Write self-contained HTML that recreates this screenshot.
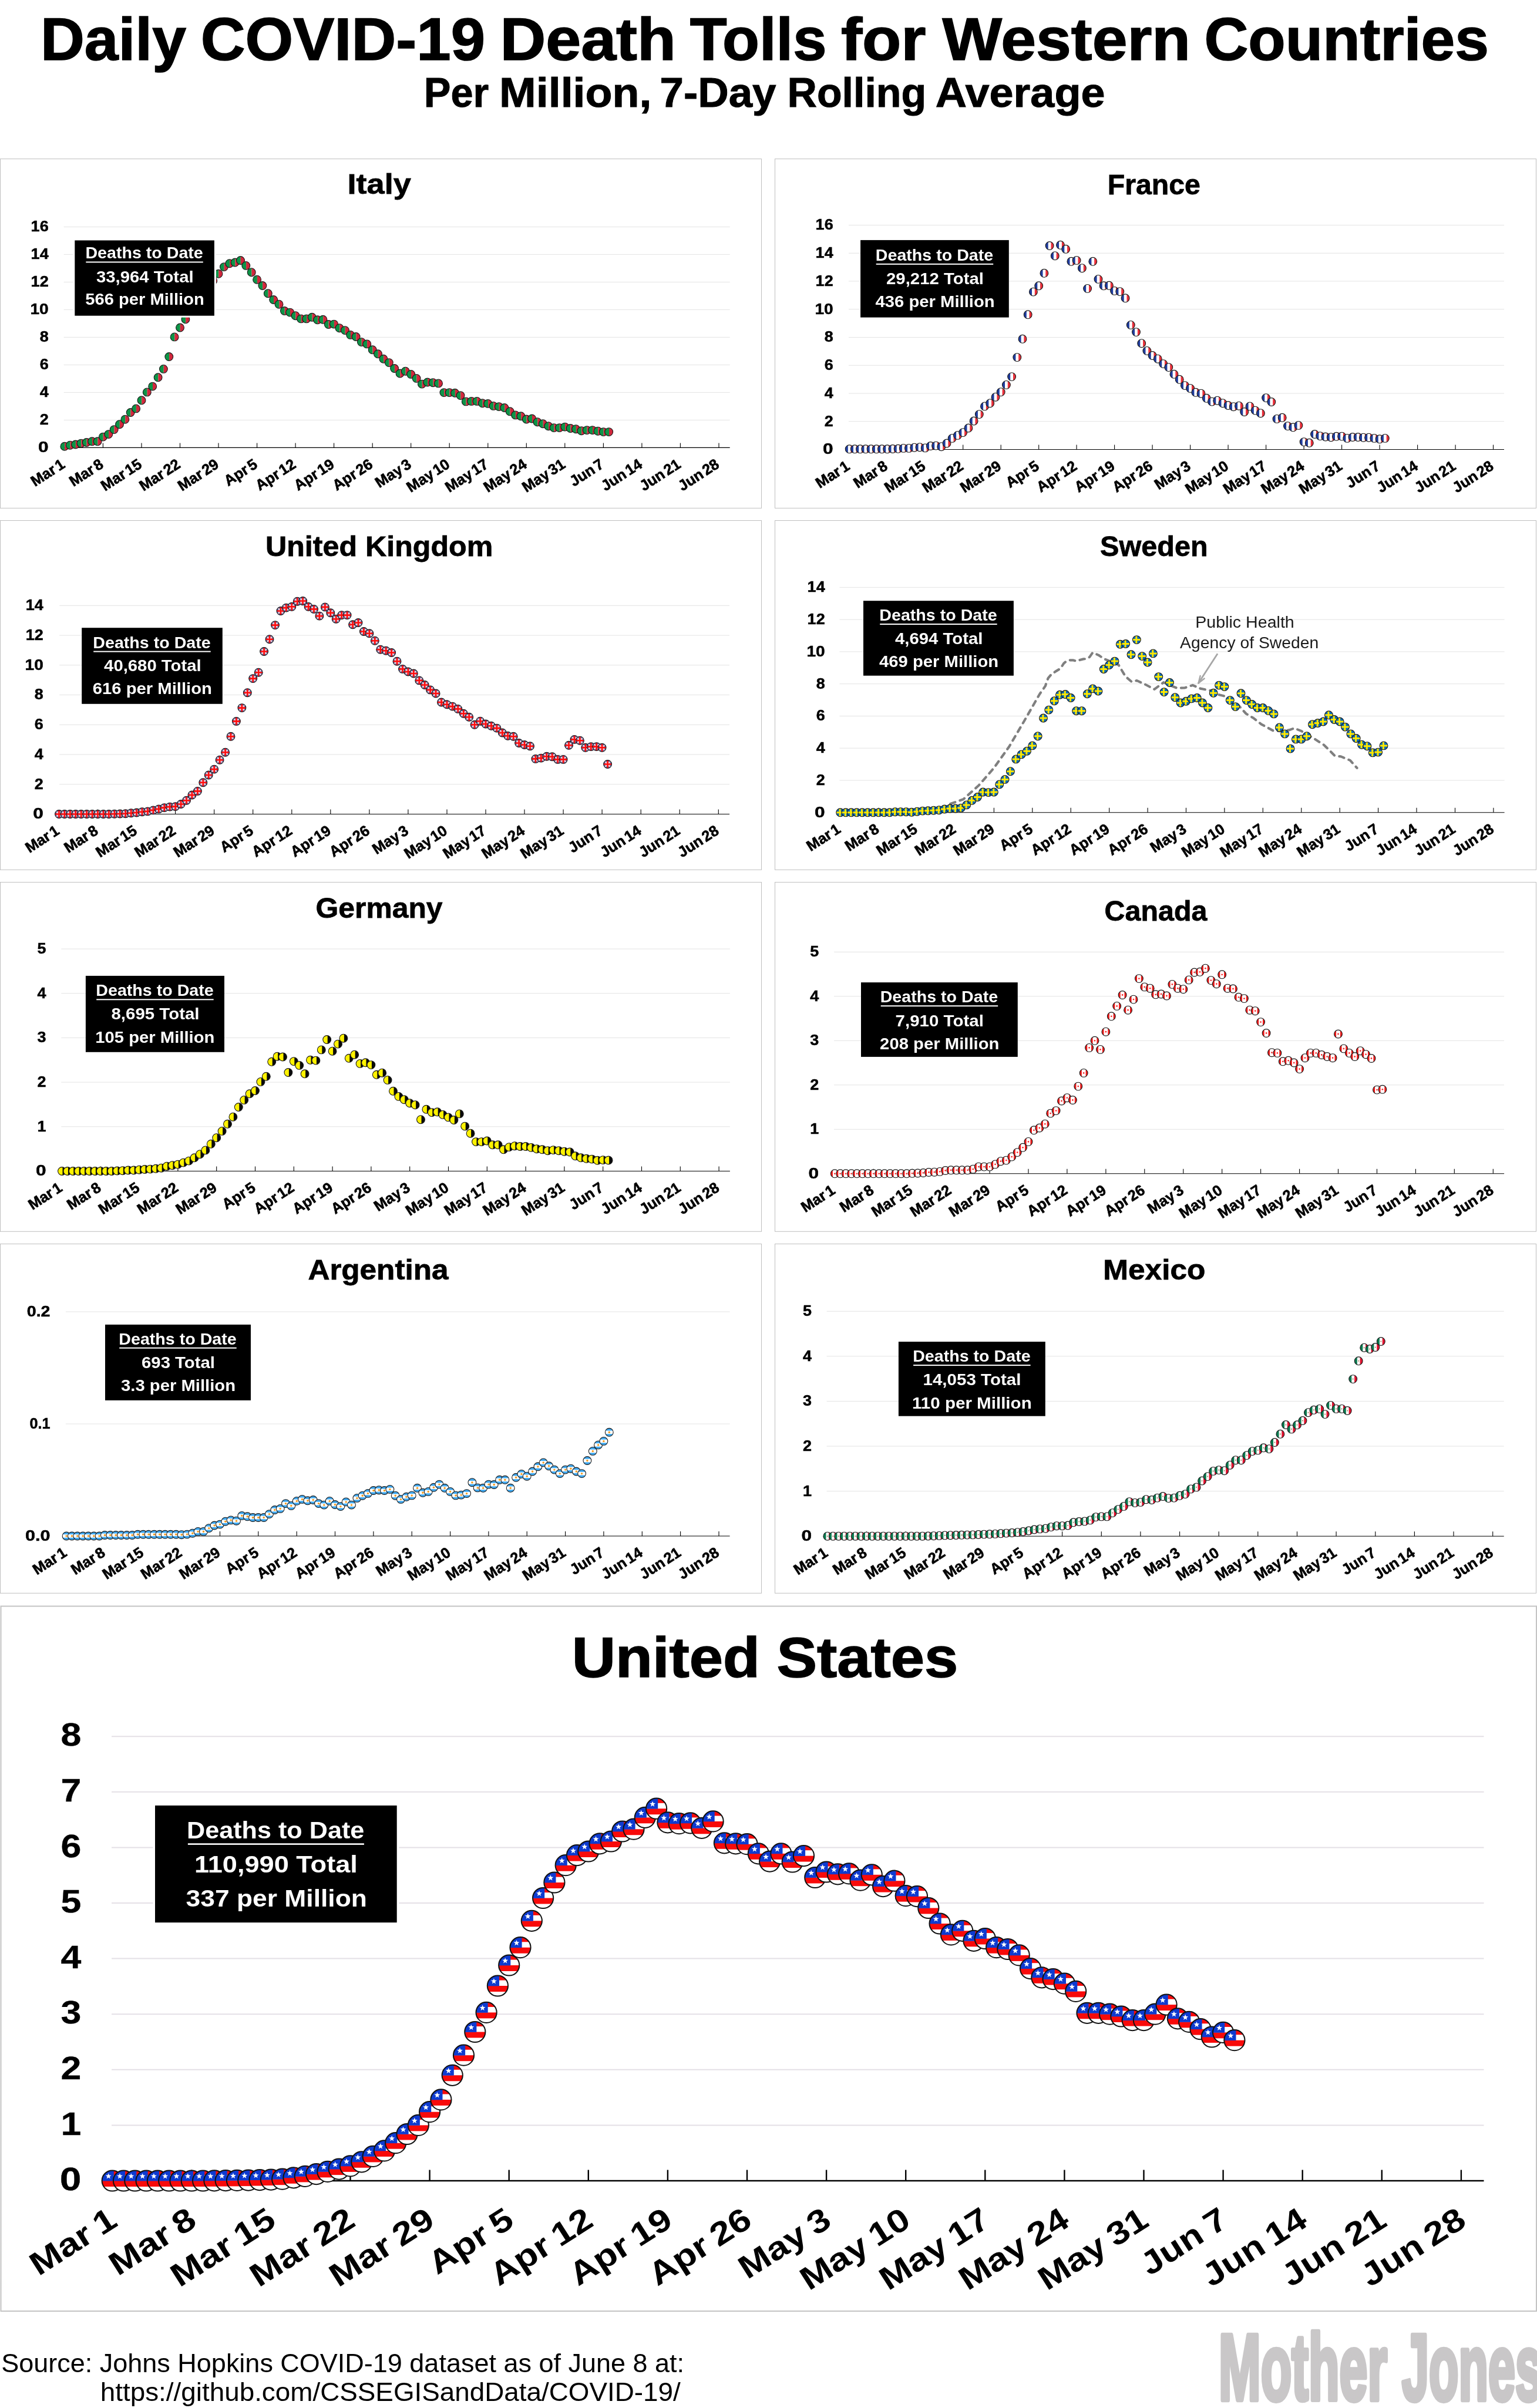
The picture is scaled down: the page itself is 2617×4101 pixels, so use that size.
<!DOCTYPE html><html><head><meta charset="utf-8"><title>Daily COVID-19 Death Tolls</title><style>html,body{margin:0;padding:0;background:#fff}svg{display:block;will-change:transform}text{font-family:"Liberation Sans",sans-serif}</style></head><body>
<svg width="2617" height="4101" viewBox="0 0 2617 4101">
<rect width="2617" height="4101" fill="#fff"/>
<defs>
<clipPath id="c"><circle r="6.9"/></clipPath>
<clipPath id="cu"><circle r="17.6"/></clipPath>
<g id="m_it"><g clip-path="url(#c)"><rect x="-8" y="-8" width="8.3" height="16" fill="#0c9547"/><rect x="0.3" y="-8" width="8" height="16" fill="#d2273c"/></g><circle r="6.9" fill="none" stroke="#1a1a1a" stroke-width="1.1"/></g>
<g id="m_fr"><g clip-path="url(#c)"><rect x="-8" y="-8" width="16" height="16" fill="#fff"/><rect x="-8" y="-8" width="5.6" height="16" fill="#1f3c9e"/><rect x="2.4" y="-8" width="6" height="16" fill="#ea2f3a"/></g><circle r="6.9" fill="none" stroke="#1a1a1a" stroke-width="1.1"/></g>
<radialGradient id="ukg" gradientUnits="userSpaceOnUse" cx="0" cy="0" r="6.9"><stop offset="0" stop-color="#fbd9dc"/><stop offset="0.45" stop-color="#f8ccd2" stop-opacity="0.95"/><stop offset="0.8" stop-color="#e9b9c8" stop-opacity="0.35"/><stop offset="1" stop-color="#c9a0c0" stop-opacity="0"/></radialGradient>
<g id="m_uk"><g clip-path="url(#c)"><rect x="-8" y="-8" width="16" height="16" fill="#17388f"/><circle r="6.9" fill="url(#ukg)"/><path d="M-8-8L8 8M-8 8L8-8" stroke="#f3d3dc" stroke-width="1.7"/><path d="M-8 0H8M0-8V8" stroke="#ff0d0d" stroke-width="2.6"/></g><circle r="6.9" fill="none" stroke="#1a1a1a" stroke-width="1.1"/></g>
<g id="m_se"><g clip-path="url(#c)"><rect x="-8" y="-8" width="16" height="16" fill="#0a6bb7"/><path d="M-8 0H8M-0.6-8V8" stroke="#ffe800" stroke-width="3"/></g><circle r="6.9" fill="none" stroke="#1a1a1a" stroke-width="1.1"/></g>
<g id="m_de"><g clip-path="url(#c)"><rect x="-8" y="-8" width="16" height="16" fill="#0a0a0a"/><rect x="-8" y="-8" width="9" height="16" fill="#fff200"/></g><circle r="6.9" fill="none" stroke="#1a1a1a" stroke-width="1.1"/></g>
<g id="m_ca"><g clip-path="url(#c)"><rect x="-8" y="-8" width="16" height="16" fill="#fff"/><rect x="-8" y="-8" width="4.6" height="16" fill="#f01a1a"/><rect x="3.4" y="-8" width="5" height="16" fill="#f01a1a"/><circle r="1.4" fill="#f03030"/></g><circle r="6.9" fill="none" stroke="#1a1a1a" stroke-width="1.1"/></g>
<g id="m_ar"><g clip-path="url(#c)"><rect x="-8" y="-8" width="16" height="16" fill="#fff"/><rect x="-8" y="-8" width="16" height="5.2" fill="#41a8ee"/><rect x="-8" y="2.8" width="16" height="6" fill="#41a8ee"/><circle r="1.7" fill="#f2991d"/></g><circle r="6.9" fill="none" stroke="#1a1a1a" stroke-width="1.1"/></g>
<g id="m_mx"><g clip-path="url(#c)"><rect x="-8" y="-8" width="16" height="16" fill="#fff"/><rect x="-8" y="-8" width="5.6" height="16" fill="#0b7a50"/><rect x="2.4" y="-8" width="6" height="16" fill="#e2122f"/><ellipse rx="0.9" ry="1.3" fill="#a58a62"/></g><circle r="6.9" fill="none" stroke="#1a1a1a" stroke-width="1.1"/></g>
<g id="m_us"><g clip-path="url(#cu)"><rect x="-19" y="-19" width="38" height="38" fill="#fff"/><rect x="-19" y="-19" width="38" height="9.6" fill="#f80a0a"/><rect x="-19" y="0" width="38" height="10" fill="#f80a0a"/><rect x="-19" y="-19" width="21.6" height="19.4" fill="#0e3bd0"/><polygon points="-6.50,-12.80 -5.21,-9.38 -1.55,-9.21 -4.41,-6.92 -3.44,-3.39 -6.50,-5.40 -9.56,-3.39 -8.59,-6.92 -11.45,-9.21 -7.79,-9.38" fill="#fff"/></g><circle r="17.6" fill="none" stroke="#111" stroke-width="2"/></g>
</defs>
<text x="69.0" y="101.9" font-size="102" font-weight="bold" text-anchor="start" fill="#000" textLength="247.8" lengthAdjust="spacingAndGlyphs" stroke="#000" stroke-width="1.6">Daily</text>
<text x="341.7" y="101.9" font-size="102" font-weight="bold" text-anchor="start" fill="#000" textLength="484.4" lengthAdjust="spacingAndGlyphs" stroke="#000" stroke-width="1.6">COVID-19</text>
<text x="851.4" y="101.9" font-size="102" font-weight="bold" text-anchor="start" fill="#000" textLength="299.4" lengthAdjust="spacingAndGlyphs" stroke="#000" stroke-width="1.6">Death</text>
<text x="1174.7" y="101.9" font-size="102" font-weight="bold" text-anchor="start" fill="#000" textLength="232.8" lengthAdjust="spacingAndGlyphs" stroke="#000" stroke-width="1.6">Tolls</text>
<text x="1431.9" y="101.9" font-size="102" font-weight="bold" text-anchor="start" fill="#000" textLength="144.7" lengthAdjust="spacingAndGlyphs" stroke="#000" stroke-width="1.6">for</text>
<text x="1604.6" y="101.9" font-size="102" font-weight="bold" text-anchor="start" fill="#000" textLength="422.5" lengthAdjust="spacingAndGlyphs" stroke="#000" stroke-width="1.6">Western</text>
<text x="2050.4" y="101.9" font-size="102" font-weight="bold" text-anchor="start" fill="#000" textLength="484.6" lengthAdjust="spacingAndGlyphs" stroke="#000" stroke-width="1.6">Countries</text>
<text x="721.8" y="181.7" font-size="71" font-weight="bold" text-anchor="start" fill="#000" textLength="110.5" lengthAdjust="spacingAndGlyphs" stroke="#000" stroke-width="1.0">Per</text>
<text x="850.1" y="181.7" font-size="71" font-weight="bold" text-anchor="start" fill="#000" textLength="259.3" lengthAdjust="spacingAndGlyphs" stroke="#000" stroke-width="1.0">Million,</text>
<text x="1123.6" y="181.7" font-size="71" font-weight="bold" text-anchor="start" fill="#000" textLength="197.9" lengthAdjust="spacingAndGlyphs" stroke="#000" stroke-width="1.0">7-Day</text>
<text x="1340.4" y="181.7" font-size="71" font-weight="bold" text-anchor="start" fill="#000" textLength="236.9" lengthAdjust="spacingAndGlyphs" stroke="#000" stroke-width="1.0">Rolling</text>
<text x="1592.8" y="181.7" font-size="71" font-weight="bold" text-anchor="start" fill="#000" textLength="288.8" lengthAdjust="spacingAndGlyphs" stroke="#000" stroke-width="1.0">Average</text>
<rect x="0.5" y="270.6" width="1296" height="594.8" fill="#fff" stroke="#bfbfbf" stroke-width="1"/>
<text x="591.5" y="330.1" font-size="49" font-weight="bold" text-anchor="start" fill="#000" textLength="108.4" lengthAdjust="spacingAndGlyphs" stroke="#000" stroke-width="0.78">Italy</text>
<line x1="108.7" x2="1242.7" y1="715.4" y2="715.4" stroke="#e3e3e3" stroke-width="1"/>
<line x1="108.7" x2="1242.7" y1="668.4" y2="668.4" stroke="#e3e3e3" stroke-width="1"/>
<line x1="108.7" x2="1242.7" y1="621.4" y2="621.4" stroke="#e3e3e3" stroke-width="1"/>
<line x1="108.7" x2="1242.7" y1="574.4" y2="574.4" stroke="#e3e3e3" stroke-width="1"/>
<line x1="108.7" x2="1242.7" y1="527.4" y2="527.4" stroke="#e3e3e3" stroke-width="1"/>
<line x1="108.7" x2="1242.7" y1="480.4" y2="480.4" stroke="#e3e3e3" stroke-width="1"/>
<line x1="108.7" x2="1242.7" y1="433.4" y2="433.4" stroke="#e3e3e3" stroke-width="1"/>
<line x1="108.7" x2="1242.7" y1="386.4" y2="386.4" stroke="#e3e3e3" stroke-width="1"/>
<line x1="109.9" x2="1242.7" y1="762.4" y2="762.4" stroke="#000" stroke-width="1.1"/>
<path d="M175.4 762.4v-8M241.0 762.4v-8M306.5 762.4v-8M372.0 762.4v-8M437.6 762.4v-8M503.1 762.4v-8M568.6 762.4v-8M634.2 762.4v-8M699.7 762.4v-8M765.2 762.4v-8M830.8 762.4v-8M896.3 762.4v-8M961.8 762.4v-8M1027.4 762.4v-8M1092.9 762.4v-8M1158.4 762.4v-8M1224.0 762.4v-8" stroke="#000" stroke-width="1.1" fill="none"/>
<text x="82.7" y="770.3" font-size="25.5" font-weight="bold" text-anchor="end" fill="#000" textLength="17.6" lengthAdjust="spacingAndGlyphs" stroke="#000" stroke-width="0.51">0</text>
<text x="82.7" y="723.3" font-size="25.5" font-weight="bold" text-anchor="end" fill="#000" textLength="15.0" lengthAdjust="spacingAndGlyphs" stroke="#000" stroke-width="0.51">2</text>
<text x="82.7" y="676.3" font-size="25.5" font-weight="bold" text-anchor="end" fill="#000" textLength="15.0" lengthAdjust="spacingAndGlyphs" stroke="#000" stroke-width="0.51">4</text>
<text x="82.7" y="629.3" font-size="25.5" font-weight="bold" text-anchor="end" fill="#000" textLength="15.0" lengthAdjust="spacingAndGlyphs" stroke="#000" stroke-width="0.51">6</text>
<text x="82.7" y="582.3" font-size="25.5" font-weight="bold" text-anchor="end" fill="#000" textLength="15.0" lengthAdjust="spacingAndGlyphs" stroke="#000" stroke-width="0.51">8</text>
<text x="82.7" y="535.3" font-size="25.5" font-weight="bold" text-anchor="end" fill="#000" textLength="31.2" lengthAdjust="spacingAndGlyphs" stroke="#000" stroke-width="0.51">10</text>
<text x="82.7" y="488.3" font-size="25.5" font-weight="bold" text-anchor="end" fill="#000" textLength="30.1" lengthAdjust="spacingAndGlyphs" stroke="#000" stroke-width="0.51">12</text>
<text x="82.7" y="441.3" font-size="25.5" font-weight="bold" text-anchor="end" fill="#000" textLength="30.1" lengthAdjust="spacingAndGlyphs" stroke="#000" stroke-width="0.51">14</text>
<text x="82.7" y="394.3" font-size="25.5" font-weight="bold" text-anchor="end" fill="#000" textLength="30.1" lengthAdjust="spacingAndGlyphs" stroke="#000" stroke-width="0.51">16</text>
<text x="0.0" y="0.0" font-size="25.5" font-weight="bold" text-anchor="end" fill="#000" transform="translate(112.4,794.9) rotate(-33) scale(1.0,1)" word-spacing="-3.6" stroke="#000" stroke-width="0.64">Mar 1</text>
<text x="0.0" y="0.0" font-size="25.5" font-weight="bold" text-anchor="end" fill="#000" transform="translate(177.9,794.9) rotate(-33) scale(1.0,1)" word-spacing="-3.6" stroke="#000" stroke-width="0.64">Mar 8</text>
<text x="0.0" y="0.0" font-size="25.5" font-weight="bold" text-anchor="end" fill="#000" transform="translate(243.5,794.9) rotate(-33) scale(1.0,1)" word-spacing="-3.6" stroke="#000" stroke-width="0.64">Mar 15</text>
<text x="0.0" y="0.0" font-size="25.5" font-weight="bold" text-anchor="end" fill="#000" transform="translate(309.0,794.9) rotate(-33) scale(1.0,1)" word-spacing="-3.6" stroke="#000" stroke-width="0.64">Mar 22</text>
<text x="0.0" y="0.0" font-size="25.5" font-weight="bold" text-anchor="end" fill="#000" transform="translate(374.5,794.9) rotate(-33) scale(1.0,1)" word-spacing="-3.6" stroke="#000" stroke-width="0.64">Mar 29</text>
<text x="0.0" y="0.0" font-size="25.5" font-weight="bold" text-anchor="end" fill="#000" transform="translate(440.1,794.9) rotate(-33) scale(1.0,1)" word-spacing="-3.6" stroke="#000" stroke-width="0.64">Apr 5</text>
<text x="0.0" y="0.0" font-size="25.5" font-weight="bold" text-anchor="end" fill="#000" transform="translate(505.6,794.9) rotate(-33) scale(1.0,1)" word-spacing="-3.6" stroke="#000" stroke-width="0.64">Apr 12</text>
<text x="0.0" y="0.0" font-size="25.5" font-weight="bold" text-anchor="end" fill="#000" transform="translate(571.1,794.9) rotate(-33) scale(1.0,1)" word-spacing="-3.6" stroke="#000" stroke-width="0.64">Apr 19</text>
<text x="0.0" y="0.0" font-size="25.5" font-weight="bold" text-anchor="end" fill="#000" transform="translate(636.7,794.9) rotate(-33) scale(1.0,1)" word-spacing="-3.6" stroke="#000" stroke-width="0.64">Apr 26</text>
<text x="0.0" y="0.0" font-size="25.5" font-weight="bold" text-anchor="end" fill="#000" transform="translate(702.2,794.9) rotate(-33) scale(1.0,1)" word-spacing="-3.6" stroke="#000" stroke-width="0.64">May 3</text>
<text x="0.0" y="0.0" font-size="25.5" font-weight="bold" text-anchor="end" fill="#000" transform="translate(767.7,794.9) rotate(-33) scale(1.0,1)" word-spacing="-3.6" stroke="#000" stroke-width="0.64">May 10</text>
<text x="0.0" y="0.0" font-size="25.5" font-weight="bold" text-anchor="end" fill="#000" transform="translate(833.3,794.9) rotate(-33) scale(1.0,1)" word-spacing="-3.6" stroke="#000" stroke-width="0.64">May 17</text>
<text x="0.0" y="0.0" font-size="25.5" font-weight="bold" text-anchor="end" fill="#000" transform="translate(898.8,794.9) rotate(-33) scale(1.0,1)" word-spacing="-3.6" stroke="#000" stroke-width="0.64">May 24</text>
<text x="0.0" y="0.0" font-size="25.5" font-weight="bold" text-anchor="end" fill="#000" transform="translate(964.3,794.9) rotate(-33) scale(1.0,1)" word-spacing="-3.6" stroke="#000" stroke-width="0.64">May 31</text>
<text x="0.0" y="0.0" font-size="25.5" font-weight="bold" text-anchor="end" fill="#000" transform="translate(1029.9,794.9) rotate(-33) scale(1.0,1)" word-spacing="-3.6" stroke="#000" stroke-width="0.64">Jun 7</text>
<text x="0.0" y="0.0" font-size="25.5" font-weight="bold" text-anchor="end" fill="#000" transform="translate(1095.4,794.9) rotate(-33) scale(1.0,1)" word-spacing="-3.6" stroke="#000" stroke-width="0.64">Jun 14</text>
<text x="0.0" y="0.0" font-size="25.5" font-weight="bold" text-anchor="end" fill="#000" transform="translate(1160.9,794.9) rotate(-33) scale(1.0,1)" word-spacing="-3.6" stroke="#000" stroke-width="0.64">Jun 21</text>
<text x="0.0" y="0.0" font-size="25.5" font-weight="bold" text-anchor="end" fill="#000" transform="translate(1226.5,794.9) rotate(-33) scale(1.0,1)" word-spacing="-3.6" stroke="#000" stroke-width="0.64">Jun 28</text>
<use href="#m_it" x="109.9" y="760.3"/>
<use href="#m_it" x="119.3" y="758.2"/>
<use href="#m_it" x="128.6" y="757.0"/>
<use href="#m_it" x="138.0" y="755.1"/>
<use href="#m_it" x="147.3" y="753.5"/>
<use href="#m_it" x="156.7" y="751.8"/>
<use href="#m_it" x="166.1" y="751.8"/>
<use href="#m_it" x="175.4" y="744.1"/>
<use href="#m_it" x="184.8" y="739.6"/>
<use href="#m_it" x="194.2" y="731.6"/>
<use href="#m_it" x="203.5" y="722.7"/>
<use href="#m_it" x="212.9" y="714.2"/>
<use href="#m_it" x="222.2" y="702.5"/>
<use href="#m_it" x="231.6" y="695.9"/>
<use href="#m_it" x="241.0" y="681.8"/>
<use href="#m_it" x="250.3" y="667.9"/>
<use href="#m_it" x="259.7" y="658.1"/>
<use href="#m_it" x="269.1" y="642.8"/>
<use href="#m_it" x="278.4" y="628.4"/>
<use href="#m_it" x="287.8" y="607.5"/>
<use href="#m_it" x="297.1" y="573.9"/>
<use href="#m_it" x="306.5" y="558.0"/>
<use href="#m_it" x="315.9" y="543.8"/>
<use href="#m_it" x="325.2" y="529.8"/>
<use href="#m_it" x="334.6" y="515.6"/>
<use href="#m_it" x="344.0" y="503.9"/>
<use href="#m_it" x="353.3" y="489.8"/>
<use href="#m_it" x="362.7" y="478.1"/>
<use href="#m_it" x="372.0" y="466.3"/>
<use href="#m_it" x="381.4" y="454.6"/>
<use href="#m_it" x="390.8" y="448.7"/>
<use href="#m_it" x="400.1" y="447.0"/>
<use href="#m_it" x="409.5" y="443.5"/>
<use href="#m_it" x="418.8" y="452.4"/>
<use href="#m_it" x="428.2" y="463.7"/>
<use href="#m_it" x="437.6" y="476.2"/>
<use href="#m_it" x="446.9" y="486.5"/>
<use href="#m_it" x="456.3" y="499.7"/>
<use href="#m_it" x="465.7" y="510.5"/>
<use href="#m_it" x="475.0" y="518.2"/>
<use href="#m_it" x="484.4" y="529.5"/>
<use href="#m_it" x="493.7" y="532.1"/>
<use href="#m_it" x="503.1" y="537.7"/>
<use href="#m_it" x="512.5" y="542.9"/>
<use href="#m_it" x="521.8" y="542.9"/>
<use href="#m_it" x="531.2" y="540.3"/>
<use href="#m_it" x="540.6" y="544.8"/>
<use href="#m_it" x="549.9" y="544.3"/>
<use href="#m_it" x="559.3" y="552.5"/>
<use href="#m_it" x="568.6" y="552.1"/>
<use href="#m_it" x="578.0" y="558.7"/>
<use href="#m_it" x="587.4" y="562.6"/>
<use href="#m_it" x="596.7" y="570.4"/>
<use href="#m_it" x="606.1" y="573.5"/>
<use href="#m_it" x="615.4" y="582.6"/>
<use href="#m_it" x="624.8" y="585.9"/>
<use href="#m_it" x="634.2" y="595.8"/>
<use href="#m_it" x="643.5" y="602.8"/>
<use href="#m_it" x="652.9" y="611.3"/>
<use href="#m_it" x="662.3" y="617.6"/>
<use href="#m_it" x="671.6" y="627.5"/>
<use href="#m_it" x="681.0" y="636.0"/>
<use href="#m_it" x="690.3" y="632.2"/>
<use href="#m_it" x="699.7" y="637.4"/>
<use href="#m_it" x="709.1" y="644.4"/>
<use href="#m_it" x="718.4" y="654.1"/>
<use href="#m_it" x="727.8" y="651.0"/>
<use href="#m_it" x="737.2" y="651.7"/>
<use href="#m_it" x="746.5" y="652.9"/>
<use href="#m_it" x="755.9" y="668.6"/>
<use href="#m_it" x="765.2" y="668.6"/>
<use href="#m_it" x="774.6" y="669.3"/>
<use href="#m_it" x="784.0" y="673.6"/>
<use href="#m_it" x="793.3" y="683.9"/>
<use href="#m_it" x="802.7" y="683.4"/>
<use href="#m_it" x="812.0" y="683.4"/>
<use href="#m_it" x="821.4" y="686.7"/>
<use href="#m_it" x="830.8" y="687.4"/>
<use href="#m_it" x="840.1" y="691.4"/>
<use href="#m_it" x="849.5" y="692.6"/>
<use href="#m_it" x="858.9" y="694.5"/>
<use href="#m_it" x="868.2" y="700.8"/>
<use href="#m_it" x="877.6" y="706.9"/>
<use href="#m_it" x="886.9" y="708.8"/>
<use href="#m_it" x="896.3" y="714.0"/>
<use href="#m_it" x="905.7" y="713.0"/>
<use href="#m_it" x="915.0" y="718.7"/>
<use href="#m_it" x="924.4" y="721.7"/>
<use href="#m_it" x="933.8" y="725.7"/>
<use href="#m_it" x="943.1" y="728.6"/>
<use href="#m_it" x="952.5" y="728.6"/>
<use href="#m_it" x="961.8" y="727.1"/>
<use href="#m_it" x="971.2" y="729.5"/>
<use href="#m_it" x="980.6" y="730.7"/>
<use href="#m_it" x="989.9" y="733.7"/>
<use href="#m_it" x="999.3" y="732.6"/>
<use href="#m_it" x="1008.7" y="732.6"/>
<use href="#m_it" x="1018.0" y="734.2"/>
<use href="#m_it" x="1027.4" y="735.6"/>
<use href="#m_it" x="1036.7" y="735.6"/>
<rect x="124.3" y="406.4" width="243.6" height="134.3" fill="#fff"/>
<rect x="127.3" y="409.4" width="237.6" height="128.3" fill="#000"/>
<text x="145.4" y="440.4" font-size="27" font-weight="bold" text-anchor="start" fill="#fff" textLength="200.4" lengthAdjust="spacingAndGlyphs" >Deaths to Date</text>
<rect x="146.3" y="445.4" width="199.5" height="2" fill="#fff"/>
<text x="163.9" y="480.5" font-size="27" font-weight="bold" text-anchor="start" fill="#fff" textLength="165.7" lengthAdjust="spacingAndGlyphs" >33,964 Total</text>
<text x="145.2" y="519.2" font-size="27" font-weight="bold" text-anchor="start" fill="#fff" textLength="202.6" lengthAdjust="spacingAndGlyphs" >566 per Million</text>
<rect x="1319.5" y="270.6" width="1296" height="594.8" fill="#fff" stroke="#bfbfbf" stroke-width="1"/>
<text x="1885.7" y="331.0" font-size="49" font-weight="bold" text-anchor="start" fill="#000" textLength="158.1" lengthAdjust="spacingAndGlyphs" stroke="#000" stroke-width="0.78">France</text>
<line x1="1445.0" x2="2561.0" y1="717.7" y2="717.7" stroke="#e3e3e3" stroke-width="1"/>
<line x1="1445.0" x2="2561.0" y1="670.0" y2="670.0" stroke="#e3e3e3" stroke-width="1"/>
<line x1="1445.0" x2="2561.0" y1="622.2" y2="622.2" stroke="#e3e3e3" stroke-width="1"/>
<line x1="1445.0" x2="2561.0" y1="574.5" y2="574.5" stroke="#e3e3e3" stroke-width="1"/>
<line x1="1445.0" x2="2561.0" y1="526.7" y2="526.7" stroke="#e3e3e3" stroke-width="1"/>
<line x1="1445.0" x2="2561.0" y1="478.9" y2="478.9" stroke="#e3e3e3" stroke-width="1"/>
<line x1="1445.0" x2="2561.0" y1="431.2" y2="431.2" stroke="#e3e3e3" stroke-width="1"/>
<line x1="1445.0" x2="2561.0" y1="383.4" y2="383.4" stroke="#e3e3e3" stroke-width="1"/>
<line x1="1446.2" x2="2561.0" y1="765.5" y2="765.5" stroke="#000" stroke-width="1.1"/>
<path d="M1510.7 765.5v-8M1575.2 765.5v-8M1639.7 765.5v-8M1704.2 765.5v-8M1768.7 765.5v-8M1833.1 765.5v-8M1897.6 765.5v-8M1962.1 765.5v-8M2026.6 765.5v-8M2091.1 765.5v-8M2155.6 765.5v-8M2220.1 765.5v-8M2284.6 765.5v-8M2349.1 765.5v-8M2413.6 765.5v-8M2478.1 765.5v-8M2542.5 765.5v-8" stroke="#000" stroke-width="1.1" fill="none"/>
<text x="1418.7" y="773.4" font-size="25.5" font-weight="bold" text-anchor="end" fill="#000" textLength="17.6" lengthAdjust="spacingAndGlyphs" stroke="#000" stroke-width="0.51">0</text>
<text x="1418.7" y="725.6" font-size="25.5" font-weight="bold" text-anchor="end" fill="#000" textLength="15.0" lengthAdjust="spacingAndGlyphs" stroke="#000" stroke-width="0.51">2</text>
<text x="1418.7" y="677.9" font-size="25.5" font-weight="bold" text-anchor="end" fill="#000" textLength="15.0" lengthAdjust="spacingAndGlyphs" stroke="#000" stroke-width="0.51">4</text>
<text x="1418.7" y="630.1" font-size="25.5" font-weight="bold" text-anchor="end" fill="#000" textLength="15.0" lengthAdjust="spacingAndGlyphs" stroke="#000" stroke-width="0.51">6</text>
<text x="1418.7" y="582.4" font-size="25.5" font-weight="bold" text-anchor="end" fill="#000" textLength="15.0" lengthAdjust="spacingAndGlyphs" stroke="#000" stroke-width="0.51">8</text>
<text x="1418.7" y="534.6" font-size="25.5" font-weight="bold" text-anchor="end" fill="#000" textLength="31.2" lengthAdjust="spacingAndGlyphs" stroke="#000" stroke-width="0.51">10</text>
<text x="1418.7" y="486.8" font-size="25.5" font-weight="bold" text-anchor="end" fill="#000" textLength="30.1" lengthAdjust="spacingAndGlyphs" stroke="#000" stroke-width="0.51">12</text>
<text x="1418.7" y="439.1" font-size="25.5" font-weight="bold" text-anchor="end" fill="#000" textLength="30.1" lengthAdjust="spacingAndGlyphs" stroke="#000" stroke-width="0.51">14</text>
<text x="1418.7" y="391.3" font-size="25.5" font-weight="bold" text-anchor="end" fill="#000" textLength="30.1" lengthAdjust="spacingAndGlyphs" stroke="#000" stroke-width="0.51">16</text>
<text x="0.0" y="0.0" font-size="25.5" font-weight="bold" text-anchor="end" fill="#000" transform="translate(1448.7,798.0) rotate(-33) scale(1.0,1)" word-spacing="-3.6" stroke="#000" stroke-width="0.64">Mar 1</text>
<text x="0.0" y="0.0" font-size="25.5" font-weight="bold" text-anchor="end" fill="#000" transform="translate(1513.2,798.0) rotate(-33) scale(1.0,1)" word-spacing="-3.6" stroke="#000" stroke-width="0.64">Mar 8</text>
<text x="0.0" y="0.0" font-size="25.5" font-weight="bold" text-anchor="end" fill="#000" transform="translate(1577.7,798.0) rotate(-33) scale(1.0,1)" word-spacing="-3.6" stroke="#000" stroke-width="0.64">Mar 15</text>
<text x="0.0" y="0.0" font-size="25.5" font-weight="bold" text-anchor="end" fill="#000" transform="translate(1642.2,798.0) rotate(-33) scale(1.0,1)" word-spacing="-3.6" stroke="#000" stroke-width="0.64">Mar 22</text>
<text x="0.0" y="0.0" font-size="25.5" font-weight="bold" text-anchor="end" fill="#000" transform="translate(1706.7,798.0) rotate(-33) scale(1.0,1)" word-spacing="-3.6" stroke="#000" stroke-width="0.64">Mar 29</text>
<text x="0.0" y="0.0" font-size="25.5" font-weight="bold" text-anchor="end" fill="#000" transform="translate(1771.2,798.0) rotate(-33) scale(1.0,1)" word-spacing="-3.6" stroke="#000" stroke-width="0.64">Apr 5</text>
<text x="0.0" y="0.0" font-size="25.5" font-weight="bold" text-anchor="end" fill="#000" transform="translate(1835.6,798.0) rotate(-33) scale(1.0,1)" word-spacing="-3.6" stroke="#000" stroke-width="0.64">Apr 12</text>
<text x="0.0" y="0.0" font-size="25.5" font-weight="bold" text-anchor="end" fill="#000" transform="translate(1900.1,798.0) rotate(-33) scale(1.0,1)" word-spacing="-3.6" stroke="#000" stroke-width="0.64">Apr 19</text>
<text x="0.0" y="0.0" font-size="25.5" font-weight="bold" text-anchor="end" fill="#000" transform="translate(1964.6,798.0) rotate(-33) scale(1.0,1)" word-spacing="-3.6" stroke="#000" stroke-width="0.64">Apr 26</text>
<text x="0.0" y="0.0" font-size="25.5" font-weight="bold" text-anchor="end" fill="#000" transform="translate(2029.1,798.0) rotate(-33) scale(1.0,1)" word-spacing="-3.6" stroke="#000" stroke-width="0.64">May 3</text>
<text x="0.0" y="0.0" font-size="25.5" font-weight="bold" text-anchor="end" fill="#000" transform="translate(2093.6,798.0) rotate(-33) scale(1.0,1)" word-spacing="-3.6" stroke="#000" stroke-width="0.64">May 10</text>
<text x="0.0" y="0.0" font-size="25.5" font-weight="bold" text-anchor="end" fill="#000" transform="translate(2158.1,798.0) rotate(-33) scale(1.0,1)" word-spacing="-3.6" stroke="#000" stroke-width="0.64">May 17</text>
<text x="0.0" y="0.0" font-size="25.5" font-weight="bold" text-anchor="end" fill="#000" transform="translate(2222.6,798.0) rotate(-33) scale(1.0,1)" word-spacing="-3.6" stroke="#000" stroke-width="0.64">May 24</text>
<text x="0.0" y="0.0" font-size="25.5" font-weight="bold" text-anchor="end" fill="#000" transform="translate(2287.1,798.0) rotate(-33) scale(1.0,1)" word-spacing="-3.6" stroke="#000" stroke-width="0.64">May 31</text>
<text x="0.0" y="0.0" font-size="25.5" font-weight="bold" text-anchor="end" fill="#000" transform="translate(2351.6,798.0) rotate(-33) scale(1.0,1)" word-spacing="-3.6" stroke="#000" stroke-width="0.64">Jun 7</text>
<text x="0.0" y="0.0" font-size="25.5" font-weight="bold" text-anchor="end" fill="#000" transform="translate(2416.1,798.0) rotate(-33) scale(1.0,1)" word-spacing="-3.6" stroke="#000" stroke-width="0.64">Jun 14</text>
<text x="0.0" y="0.0" font-size="25.5" font-weight="bold" text-anchor="end" fill="#000" transform="translate(2480.6,798.0) rotate(-33) scale(1.0,1)" word-spacing="-3.6" stroke="#000" stroke-width="0.64">Jun 21</text>
<text x="0.0" y="0.0" font-size="25.5" font-weight="bold" text-anchor="end" fill="#000" transform="translate(2545.0,798.0) rotate(-33) scale(1.0,1)" word-spacing="-3.6" stroke="#000" stroke-width="0.64">Jun 28</text>
<use href="#m_fr" x="1446.2" y="764.8"/>
<use href="#m_fr" x="1455.4" y="764.8"/>
<use href="#m_fr" x="1464.6" y="764.8"/>
<use href="#m_fr" x="1473.8" y="764.8"/>
<use href="#m_fr" x="1483.1" y="764.8"/>
<use href="#m_fr" x="1492.3" y="764.8"/>
<use href="#m_fr" x="1501.5" y="764.8"/>
<use href="#m_fr" x="1510.7" y="764.8"/>
<use href="#m_fr" x="1519.9" y="764.5"/>
<use href="#m_fr" x="1529.1" y="764.3"/>
<use href="#m_fr" x="1538.3" y="763.4"/>
<use href="#m_fr" x="1547.5" y="763.4"/>
<use href="#m_fr" x="1556.8" y="762.2"/>
<use href="#m_fr" x="1566.0" y="761.7"/>
<use href="#m_fr" x="1575.2" y="762.9"/>
<use href="#m_fr" x="1584.4" y="759.5"/>
<use href="#m_fr" x="1593.6" y="759.1"/>
<use href="#m_fr" x="1602.8" y="760.7"/>
<use href="#m_fr" x="1612.0" y="755.0"/>
<use href="#m_fr" x="1621.2" y="746.4"/>
<use href="#m_fr" x="1630.5" y="741.4"/>
<use href="#m_fr" x="1639.7" y="736.6"/>
<use href="#m_fr" x="1648.9" y="729.0"/>
<use href="#m_fr" x="1658.1" y="717.0"/>
<use href="#m_fr" x="1667.3" y="705.6"/>
<use href="#m_fr" x="1676.5" y="691.9"/>
<use href="#m_fr" x="1685.7" y="686.7"/>
<use href="#m_fr" x="1695.0" y="676.2"/>
<use href="#m_fr" x="1704.2" y="667.6"/>
<use href="#m_fr" x="1713.4" y="655.4"/>
<use href="#m_fr" x="1722.6" y="641.6"/>
<use href="#m_fr" x="1731.8" y="608.6"/>
<use href="#m_fr" x="1741.0" y="577.3"/>
<use href="#m_fr" x="1750.2" y="535.8"/>
<use href="#m_fr" x="1759.4" y="497.1"/>
<use href="#m_fr" x="1768.7" y="486.8"/>
<use href="#m_fr" x="1777.9" y="465.3"/>
<use href="#m_fr" x="1787.1" y="418.5"/>
<use href="#m_fr" x="1796.3" y="435.7"/>
<use href="#m_fr" x="1805.5" y="417.3"/>
<use href="#m_fr" x="1814.7" y="424.3"/>
<use href="#m_fr" x="1823.9" y="445.3"/>
<use href="#m_fr" x="1833.1" y="443.4"/>
<use href="#m_fr" x="1842.4" y="456.7"/>
<use href="#m_fr" x="1851.6" y="491.4"/>
<use href="#m_fr" x="1860.8" y="445.3"/>
<use href="#m_fr" x="1870.0" y="475.4"/>
<use href="#m_fr" x="1879.2" y="486.8"/>
<use href="#m_fr" x="1888.4" y="486.3"/>
<use href="#m_fr" x="1897.6" y="495.4"/>
<use href="#m_fr" x="1906.8" y="496.6"/>
<use href="#m_fr" x="1916.1" y="507.8"/>
<use href="#m_fr" x="1925.3" y="553.4"/>
<use href="#m_fr" x="1934.5" y="565.6"/>
<use href="#m_fr" x="1943.7" y="584.7"/>
<use href="#m_fr" x="1952.9" y="597.4"/>
<use href="#m_fr" x="1962.1" y="605.5"/>
<use href="#m_fr" x="1971.3" y="611.2"/>
<use href="#m_fr" x="1980.6" y="619.6"/>
<use href="#m_fr" x="1989.8" y="625.6"/>
<use href="#m_fr" x="1999.0" y="637.3"/>
<use href="#m_fr" x="2008.2" y="646.3"/>
<use href="#m_fr" x="2017.4" y="656.6"/>
<use href="#m_fr" x="2026.6" y="661.4"/>
<use href="#m_fr" x="2035.8" y="668.3"/>
<use href="#m_fr" x="2045.0" y="670.2"/>
<use href="#m_fr" x="2054.3" y="678.3"/>
<use href="#m_fr" x="2063.5" y="684.1"/>
<use href="#m_fr" x="2072.7" y="682.2"/>
<use href="#m_fr" x="2081.9" y="686.7"/>
<use href="#m_fr" x="2091.1" y="690.5"/>
<use href="#m_fr" x="2100.3" y="692.7"/>
<use href="#m_fr" x="2109.5" y="691.2"/>
<use href="#m_fr" x="2118.7" y="701.5"/>
<use href="#m_fr" x="2128.0" y="691.9"/>
<use href="#m_fr" x="2137.2" y="699.1"/>
<use href="#m_fr" x="2146.4" y="703.7"/>
<use href="#m_fr" x="2155.6" y="677.6"/>
<use href="#m_fr" x="2164.8" y="684.5"/>
<use href="#m_fr" x="2174.0" y="713.4"/>
<use href="#m_fr" x="2183.2" y="711.3"/>
<use href="#m_fr" x="2192.5" y="725.6"/>
<use href="#m_fr" x="2201.7" y="727.8"/>
<use href="#m_fr" x="2210.9" y="724.4"/>
<use href="#m_fr" x="2220.1" y="752.6"/>
<use href="#m_fr" x="2229.3" y="754.3"/>
<use href="#m_fr" x="2238.5" y="739.5"/>
<use href="#m_fr" x="2247.7" y="742.6"/>
<use href="#m_fr" x="2256.9" y="744.0"/>
<use href="#m_fr" x="2266.2" y="744.7"/>
<use href="#m_fr" x="2275.4" y="743.3"/>
<use href="#m_fr" x="2284.6" y="743.1"/>
<use href="#m_fr" x="2293.8" y="746.4"/>
<use href="#m_fr" x="2303.0" y="744.5"/>
<use href="#m_fr" x="2312.2" y="744.5"/>
<use href="#m_fr" x="2321.4" y="745.2"/>
<use href="#m_fr" x="2330.6" y="745.2"/>
<use href="#m_fr" x="2339.9" y="746.4"/>
<use href="#m_fr" x="2349.1" y="747.8"/>
<use href="#m_fr" x="2358.3" y="746.4"/>
<rect x="1465.1" y="408.9" width="252.7" height="131.7" fill="#fff"/>
<rect x="1465.1" y="408.9" width="252.7" height="131.7" fill="#000"/>
<text x="1490.8" y="443.8" font-size="27" font-weight="bold" text-anchor="start" fill="#fff" textLength="200.4" lengthAdjust="spacingAndGlyphs" >Deaths to Date</text>
<rect x="1491.7" y="448.8" width="199.5" height="2" fill="#fff"/>
<text x="1509.0" y="483.6" font-size="27" font-weight="bold" text-anchor="start" fill="#fff" textLength="166.0" lengthAdjust="spacingAndGlyphs" >29,212 Total</text>
<text x="1490.5" y="522.7" font-size="27" font-weight="bold" text-anchor="start" fill="#fff" textLength="203.2" lengthAdjust="spacingAndGlyphs" >436 per Million</text>
<rect x="0.5" y="886.5" width="1296" height="594.8" fill="#fff" stroke="#bfbfbf" stroke-width="1"/>
<text x="452.0" y="946.9" font-size="49" font-weight="bold" text-anchor="start" fill="#000" textLength="387.3" lengthAdjust="spacingAndGlyphs" stroke="#000" stroke-width="0.78">United Kingdom</text>
<line x1="101.2" x2="1242.1" y1="1335.8" y2="1335.8" stroke="#e3e3e3" stroke-width="1"/>
<line x1="101.2" x2="1242.1" y1="1285.0" y2="1285.0" stroke="#e3e3e3" stroke-width="1"/>
<line x1="101.2" x2="1242.1" y1="1234.3" y2="1234.3" stroke="#e3e3e3" stroke-width="1"/>
<line x1="101.2" x2="1242.1" y1="1183.5" y2="1183.5" stroke="#e3e3e3" stroke-width="1"/>
<line x1="101.2" x2="1242.1" y1="1132.8" y2="1132.8" stroke="#e3e3e3" stroke-width="1"/>
<line x1="101.2" x2="1242.1" y1="1082.1" y2="1082.1" stroke="#e3e3e3" stroke-width="1"/>
<line x1="101.2" x2="1242.1" y1="1031.3" y2="1031.3" stroke="#e3e3e3" stroke-width="1"/>
<line x1="100.5" x2="1242.1" y1="1386.5" y2="1386.5" stroke="#000" stroke-width="1.1"/>
<path d="M166.5 1386.5v-8M232.6 1386.5v-8M298.6 1386.5v-8M364.7 1386.5v-8M430.7 1386.5v-8M496.8 1386.5v-8M562.8 1386.5v-8M628.9 1386.5v-8M694.9 1386.5v-8M761.0 1386.5v-8M827.0 1386.5v-8M893.0 1386.5v-8M959.1 1386.5v-8M1025.1 1386.5v-8M1091.2 1386.5v-8M1157.2 1386.5v-8M1223.3 1386.5v-8" stroke="#000" stroke-width="1.1" fill="none"/>
<text x="73.8" y="1394.4" font-size="25.5" font-weight="bold" text-anchor="end" fill="#000" textLength="17.6" lengthAdjust="spacingAndGlyphs" stroke="#000" stroke-width="0.51">0</text>
<text x="73.8" y="1343.7" font-size="25.5" font-weight="bold" text-anchor="end" fill="#000" textLength="15.0" lengthAdjust="spacingAndGlyphs" stroke="#000" stroke-width="0.51">2</text>
<text x="73.8" y="1292.9" font-size="25.5" font-weight="bold" text-anchor="end" fill="#000" textLength="15.0" lengthAdjust="spacingAndGlyphs" stroke="#000" stroke-width="0.51">4</text>
<text x="73.8" y="1242.2" font-size="25.5" font-weight="bold" text-anchor="end" fill="#000" textLength="15.0" lengthAdjust="spacingAndGlyphs" stroke="#000" stroke-width="0.51">6</text>
<text x="73.8" y="1191.4" font-size="25.5" font-weight="bold" text-anchor="end" fill="#000" textLength="15.0" lengthAdjust="spacingAndGlyphs" stroke="#000" stroke-width="0.51">8</text>
<text x="73.8" y="1140.7" font-size="25.5" font-weight="bold" text-anchor="end" fill="#000" textLength="31.2" lengthAdjust="spacingAndGlyphs" stroke="#000" stroke-width="0.51">10</text>
<text x="73.8" y="1090.0" font-size="25.5" font-weight="bold" text-anchor="end" fill="#000" textLength="30.1" lengthAdjust="spacingAndGlyphs" stroke="#000" stroke-width="0.51">12</text>
<text x="73.8" y="1039.2" font-size="25.5" font-weight="bold" text-anchor="end" fill="#000" textLength="30.1" lengthAdjust="spacingAndGlyphs" stroke="#000" stroke-width="0.51">14</text>
<text x="0.0" y="0.0" font-size="25.5" font-weight="bold" text-anchor="end" fill="#000" transform="translate(103.0,1419.0) rotate(-33) scale(1.0,1)" word-spacing="-3.6" stroke="#000" stroke-width="0.64">Mar 1</text>
<text x="0.0" y="0.0" font-size="25.5" font-weight="bold" text-anchor="end" fill="#000" transform="translate(169.0,1419.0) rotate(-33) scale(1.0,1)" word-spacing="-3.6" stroke="#000" stroke-width="0.64">Mar 8</text>
<text x="0.0" y="0.0" font-size="25.5" font-weight="bold" text-anchor="end" fill="#000" transform="translate(235.1,1419.0) rotate(-33) scale(1.0,1)" word-spacing="-3.6" stroke="#000" stroke-width="0.64">Mar 15</text>
<text x="0.0" y="0.0" font-size="25.5" font-weight="bold" text-anchor="end" fill="#000" transform="translate(301.1,1419.0) rotate(-33) scale(1.0,1)" word-spacing="-3.6" stroke="#000" stroke-width="0.64">Mar 22</text>
<text x="0.0" y="0.0" font-size="25.5" font-weight="bold" text-anchor="end" fill="#000" transform="translate(367.2,1419.0) rotate(-33) scale(1.0,1)" word-spacing="-3.6" stroke="#000" stroke-width="0.64">Mar 29</text>
<text x="0.0" y="0.0" font-size="25.5" font-weight="bold" text-anchor="end" fill="#000" transform="translate(433.2,1419.0) rotate(-33) scale(1.0,1)" word-spacing="-3.6" stroke="#000" stroke-width="0.64">Apr 5</text>
<text x="0.0" y="0.0" font-size="25.5" font-weight="bold" text-anchor="end" fill="#000" transform="translate(499.3,1419.0) rotate(-33) scale(1.0,1)" word-spacing="-3.6" stroke="#000" stroke-width="0.64">Apr 12</text>
<text x="0.0" y="0.0" font-size="25.5" font-weight="bold" text-anchor="end" fill="#000" transform="translate(565.3,1419.0) rotate(-33) scale(1.0,1)" word-spacing="-3.6" stroke="#000" stroke-width="0.64">Apr 19</text>
<text x="0.0" y="0.0" font-size="25.5" font-weight="bold" text-anchor="end" fill="#000" transform="translate(631.4,1419.0) rotate(-33) scale(1.0,1)" word-spacing="-3.6" stroke="#000" stroke-width="0.64">Apr 26</text>
<text x="0.0" y="0.0" font-size="25.5" font-weight="bold" text-anchor="end" fill="#000" transform="translate(697.4,1419.0) rotate(-33) scale(1.0,1)" word-spacing="-3.6" stroke="#000" stroke-width="0.64">May 3</text>
<text x="0.0" y="0.0" font-size="25.5" font-weight="bold" text-anchor="end" fill="#000" transform="translate(763.5,1419.0) rotate(-33) scale(1.0,1)" word-spacing="-3.6" stroke="#000" stroke-width="0.64">May 10</text>
<text x="0.0" y="0.0" font-size="25.5" font-weight="bold" text-anchor="end" fill="#000" transform="translate(829.5,1419.0) rotate(-33) scale(1.0,1)" word-spacing="-3.6" stroke="#000" stroke-width="0.64">May 17</text>
<text x="0.0" y="0.0" font-size="25.5" font-weight="bold" text-anchor="end" fill="#000" transform="translate(895.5,1419.0) rotate(-33) scale(1.0,1)" word-spacing="-3.6" stroke="#000" stroke-width="0.64">May 24</text>
<text x="0.0" y="0.0" font-size="25.5" font-weight="bold" text-anchor="end" fill="#000" transform="translate(961.6,1419.0) rotate(-33) scale(1.0,1)" word-spacing="-3.6" stroke="#000" stroke-width="0.64">May 31</text>
<text x="0.0" y="0.0" font-size="25.5" font-weight="bold" text-anchor="end" fill="#000" transform="translate(1027.6,1419.0) rotate(-33) scale(1.0,1)" word-spacing="-3.6" stroke="#000" stroke-width="0.64">Jun 7</text>
<text x="0.0" y="0.0" font-size="25.5" font-weight="bold" text-anchor="end" fill="#000" transform="translate(1093.7,1419.0) rotate(-33) scale(1.0,1)" word-spacing="-3.6" stroke="#000" stroke-width="0.64">Jun 14</text>
<text x="0.0" y="0.0" font-size="25.5" font-weight="bold" text-anchor="end" fill="#000" transform="translate(1159.7,1419.0) rotate(-33) scale(1.0,1)" word-spacing="-3.6" stroke="#000" stroke-width="0.64">Jun 21</text>
<text x="0.0" y="0.0" font-size="25.5" font-weight="bold" text-anchor="end" fill="#000" transform="translate(1225.8,1419.0) rotate(-33) scale(1.0,1)" word-spacing="-3.6" stroke="#000" stroke-width="0.64">Jun 28</text>
<use href="#m_uk" x="100.5" y="1386.5"/>
<use href="#m_uk" x="109.9" y="1386.5"/>
<use href="#m_uk" x="119.4" y="1386.5"/>
<use href="#m_uk" x="128.8" y="1386.5"/>
<use href="#m_uk" x="138.2" y="1386.5"/>
<use href="#m_uk" x="147.7" y="1386.5"/>
<use href="#m_uk" x="157.1" y="1386.5"/>
<use href="#m_uk" x="166.5" y="1386.5"/>
<use href="#m_uk" x="176.0" y="1386.5"/>
<use href="#m_uk" x="185.4" y="1386.5"/>
<use href="#m_uk" x="194.9" y="1386.2"/>
<use href="#m_uk" x="204.3" y="1386.0"/>
<use href="#m_uk" x="213.7" y="1385.7"/>
<use href="#m_uk" x="223.2" y="1384.7"/>
<use href="#m_uk" x="232.6" y="1384.0"/>
<use href="#m_uk" x="242.0" y="1382.7"/>
<use href="#m_uk" x="251.5" y="1381.9"/>
<use href="#m_uk" x="260.9" y="1379.9"/>
<use href="#m_uk" x="270.3" y="1377.9"/>
<use href="#m_uk" x="279.8" y="1375.6"/>
<use href="#m_uk" x="289.2" y="1374.1"/>
<use href="#m_uk" x="298.6" y="1373.6"/>
<use href="#m_uk" x="308.1" y="1369.5"/>
<use href="#m_uk" x="317.5" y="1363.2"/>
<use href="#m_uk" x="326.9" y="1354.0"/>
<use href="#m_uk" x="336.4" y="1347.4"/>
<use href="#m_uk" x="345.8" y="1332.7"/>
<use href="#m_uk" x="355.2" y="1320.0"/>
<use href="#m_uk" x="364.7" y="1310.1"/>
<use href="#m_uk" x="374.1" y="1294.2"/>
<use href="#m_uk" x="383.6" y="1281.2"/>
<use href="#m_uk" x="393.0" y="1254.3"/>
<use href="#m_uk" x="402.4" y="1228.4"/>
<use href="#m_uk" x="411.9" y="1205.6"/>
<use href="#m_uk" x="421.3" y="1179.7"/>
<use href="#m_uk" x="430.7" y="1155.6"/>
<use href="#m_uk" x="440.2" y="1145.2"/>
<use href="#m_uk" x="449.6" y="1109.5"/>
<use href="#m_uk" x="459.0" y="1088.7"/>
<use href="#m_uk" x="468.5" y="1064.6"/>
<use href="#m_uk" x="477.9" y="1040.5"/>
<use href="#m_uk" x="487.3" y="1035.1"/>
<use href="#m_uk" x="496.8" y="1033.3"/>
<use href="#m_uk" x="506.2" y="1024.2"/>
<use href="#m_uk" x="515.6" y="1023.5"/>
<use href="#m_uk" x="525.1" y="1033.3"/>
<use href="#m_uk" x="534.5" y="1037.4"/>
<use href="#m_uk" x="543.9" y="1049.1"/>
<use href="#m_uk" x="553.4" y="1033.9"/>
<use href="#m_uk" x="562.8" y="1043.8"/>
<use href="#m_uk" x="572.2" y="1054.2"/>
<use href="#m_uk" x="581.7" y="1047.6"/>
<use href="#m_uk" x="591.1" y="1047.6"/>
<use href="#m_uk" x="600.6" y="1063.8"/>
<use href="#m_uk" x="610.0" y="1060.5"/>
<use href="#m_uk" x="619.4" y="1075.5"/>
<use href="#m_uk" x="628.9" y="1078.8"/>
<use href="#m_uk" x="638.3" y="1091.2"/>
<use href="#m_uk" x="647.7" y="1106.2"/>
<use href="#m_uk" x="657.2" y="1108.2"/>
<use href="#m_uk" x="666.6" y="1111.5"/>
<use href="#m_uk" x="676.0" y="1126.2"/>
<use href="#m_uk" x="685.5" y="1139.4"/>
<use href="#m_uk" x="694.9" y="1144.0"/>
<use href="#m_uk" x="704.3" y="1147.0"/>
<use href="#m_uk" x="713.8" y="1158.9"/>
<use href="#m_uk" x="723.2" y="1166.5"/>
<use href="#m_uk" x="732.6" y="1174.9"/>
<use href="#m_uk" x="742.1" y="1181.0"/>
<use href="#m_uk" x="751.5" y="1196.0"/>
<use href="#m_uk" x="761.0" y="1199.8"/>
<use href="#m_uk" x="770.4" y="1203.1"/>
<use href="#m_uk" x="779.8" y="1207.4"/>
<use href="#m_uk" x="789.3" y="1215.3"/>
<use href="#m_uk" x="798.7" y="1221.3"/>
<use href="#m_uk" x="808.1" y="1234.3"/>
<use href="#m_uk" x="817.6" y="1228.2"/>
<use href="#m_uk" x="827.0" y="1233.0"/>
<use href="#m_uk" x="836.4" y="1236.3"/>
<use href="#m_uk" x="845.9" y="1240.1"/>
<use href="#m_uk" x="855.3" y="1248.0"/>
<use href="#m_uk" x="864.7" y="1253.3"/>
<use href="#m_uk" x="874.2" y="1254.3"/>
<use href="#m_uk" x="883.6" y="1265.5"/>
<use href="#m_uk" x="893.0" y="1268.5"/>
<use href="#m_uk" x="902.5" y="1270.8"/>
<use href="#m_uk" x="911.9" y="1292.4"/>
<use href="#m_uk" x="921.3" y="1291.1"/>
<use href="#m_uk" x="930.8" y="1288.3"/>
<use href="#m_uk" x="940.2" y="1288.8"/>
<use href="#m_uk" x="949.7" y="1293.4"/>
<use href="#m_uk" x="959.1" y="1293.4"/>
<use href="#m_uk" x="968.5" y="1269.3"/>
<use href="#m_uk" x="978.0" y="1259.4"/>
<use href="#m_uk" x="987.4" y="1261.2"/>
<use href="#m_uk" x="996.8" y="1273.3"/>
<use href="#m_uk" x="1006.3" y="1271.6"/>
<use href="#m_uk" x="1015.7" y="1271.6"/>
<use href="#m_uk" x="1025.1" y="1273.3"/>
<use href="#m_uk" x="1034.6" y="1301.5"/>
<rect x="139.2" y="1069.2" width="239.6" height="129.6" fill="#fff"/>
<rect x="139.2" y="1069.2" width="239.6" height="129.6" fill="#000"/>
<text x="158.3" y="1103.6" font-size="27" font-weight="bold" text-anchor="start" fill="#fff" textLength="200.4" lengthAdjust="spacingAndGlyphs" >Deaths to Date</text>
<rect x="159.2" y="1108.6" width="199.5" height="2" fill="#fff"/>
<text x="177.1" y="1143.1" font-size="27" font-weight="bold" text-anchor="start" fill="#fff" textLength="165.5" lengthAdjust="spacingAndGlyphs" >40,680 Total</text>
<text x="157.7" y="1182.2" font-size="27" font-weight="bold" text-anchor="start" fill="#fff" textLength="203.3" lengthAdjust="spacingAndGlyphs" >616 per Million</text>
<rect x="1319.5" y="886.5" width="1296" height="594.8" fill="#fff" stroke="#bfbfbf" stroke-width="1"/>
<text x="1873.0" y="946.9" font-size="49" font-weight="bold" text-anchor="start" fill="#000" textLength="183.6" lengthAdjust="spacingAndGlyphs" stroke="#000" stroke-width="0.78">Sweden</text>
<line x1="1429.5" x2="2561.6" y1="1329.0" y2="1329.0" stroke="#e3e3e3" stroke-width="1"/>
<line x1="1429.5" x2="2561.6" y1="1274.2" y2="1274.2" stroke="#e3e3e3" stroke-width="1"/>
<line x1="1429.5" x2="2561.6" y1="1219.5" y2="1219.5" stroke="#e3e3e3" stroke-width="1"/>
<line x1="1429.5" x2="2561.6" y1="1164.7" y2="1164.7" stroke="#e3e3e3" stroke-width="1"/>
<line x1="1429.5" x2="2561.6" y1="1109.9" y2="1109.9" stroke="#e3e3e3" stroke-width="1"/>
<line x1="1429.5" x2="2561.6" y1="1055.1" y2="1055.1" stroke="#e3e3e3" stroke-width="1"/>
<line x1="1429.5" x2="2561.6" y1="1000.3" y2="1000.3" stroke="#e3e3e3" stroke-width="1"/>
<line x1="1430.7" x2="2561.6" y1="1383.8" y2="1383.8" stroke="#000" stroke-width="1.1"/>
<path d="M1496.1 1383.8v-8M1561.5 1383.8v-8M1627.0 1383.8v-8M1692.4 1383.8v-8M1757.8 1383.8v-8M1823.2 1383.8v-8M1888.7 1383.8v-8M1954.1 1383.8v-8M2019.5 1383.8v-8M2084.9 1383.8v-8M2150.3 1383.8v-8M2215.8 1383.8v-8M2281.2 1383.8v-8M2346.6 1383.8v-8M2412.0 1383.8v-8M2477.5 1383.8v-8M2542.9 1383.8v-8" stroke="#000" stroke-width="1.1" fill="none"/>
<text x="1404.7" y="1391.7" font-size="25.5" font-weight="bold" text-anchor="end" fill="#000" textLength="17.6" lengthAdjust="spacingAndGlyphs" stroke="#000" stroke-width="0.51">0</text>
<text x="1404.7" y="1336.9" font-size="25.5" font-weight="bold" text-anchor="end" fill="#000" textLength="15.0" lengthAdjust="spacingAndGlyphs" stroke="#000" stroke-width="0.51">2</text>
<text x="1404.7" y="1282.1" font-size="25.5" font-weight="bold" text-anchor="end" fill="#000" textLength="15.0" lengthAdjust="spacingAndGlyphs" stroke="#000" stroke-width="0.51">4</text>
<text x="1404.7" y="1227.4" font-size="25.5" font-weight="bold" text-anchor="end" fill="#000" textLength="15.0" lengthAdjust="spacingAndGlyphs" stroke="#000" stroke-width="0.51">6</text>
<text x="1404.7" y="1172.6" font-size="25.5" font-weight="bold" text-anchor="end" fill="#000" textLength="15.0" lengthAdjust="spacingAndGlyphs" stroke="#000" stroke-width="0.51">8</text>
<text x="1404.7" y="1117.8" font-size="25.5" font-weight="bold" text-anchor="end" fill="#000" textLength="31.2" lengthAdjust="spacingAndGlyphs" stroke="#000" stroke-width="0.51">10</text>
<text x="1404.7" y="1063.0" font-size="25.5" font-weight="bold" text-anchor="end" fill="#000" textLength="30.1" lengthAdjust="spacingAndGlyphs" stroke="#000" stroke-width="0.51">12</text>
<text x="1404.7" y="1008.2" font-size="25.5" font-weight="bold" text-anchor="end" fill="#000" textLength="30.1" lengthAdjust="spacingAndGlyphs" stroke="#000" stroke-width="0.51">14</text>
<text x="0.0" y="0.0" font-size="25.5" font-weight="bold" text-anchor="end" fill="#000" transform="translate(1433.2,1416.3) rotate(-33) scale(1.0,1)" word-spacing="-3.6" stroke="#000" stroke-width="0.64">Mar 1</text>
<text x="0.0" y="0.0" font-size="25.5" font-weight="bold" text-anchor="end" fill="#000" transform="translate(1498.6,1416.3) rotate(-33) scale(1.0,1)" word-spacing="-3.6" stroke="#000" stroke-width="0.64">Mar 8</text>
<text x="0.0" y="0.0" font-size="25.5" font-weight="bold" text-anchor="end" fill="#000" transform="translate(1564.0,1416.3) rotate(-33) scale(1.0,1)" word-spacing="-3.6" stroke="#000" stroke-width="0.64">Mar 15</text>
<text x="0.0" y="0.0" font-size="25.5" font-weight="bold" text-anchor="end" fill="#000" transform="translate(1629.5,1416.3) rotate(-33) scale(1.0,1)" word-spacing="-3.6" stroke="#000" stroke-width="0.64">Mar 22</text>
<text x="0.0" y="0.0" font-size="25.5" font-weight="bold" text-anchor="end" fill="#000" transform="translate(1694.9,1416.3) rotate(-33) scale(1.0,1)" word-spacing="-3.6" stroke="#000" stroke-width="0.64">Mar 29</text>
<text x="0.0" y="0.0" font-size="25.5" font-weight="bold" text-anchor="end" fill="#000" transform="translate(1760.3,1416.3) rotate(-33) scale(1.0,1)" word-spacing="-3.6" stroke="#000" stroke-width="0.64">Apr 5</text>
<text x="0.0" y="0.0" font-size="25.5" font-weight="bold" text-anchor="end" fill="#000" transform="translate(1825.7,1416.3) rotate(-33) scale(1.0,1)" word-spacing="-3.6" stroke="#000" stroke-width="0.64">Apr 12</text>
<text x="0.0" y="0.0" font-size="25.5" font-weight="bold" text-anchor="end" fill="#000" transform="translate(1891.2,1416.3) rotate(-33) scale(1.0,1)" word-spacing="-3.6" stroke="#000" stroke-width="0.64">Apr 19</text>
<text x="0.0" y="0.0" font-size="25.5" font-weight="bold" text-anchor="end" fill="#000" transform="translate(1956.6,1416.3) rotate(-33) scale(1.0,1)" word-spacing="-3.6" stroke="#000" stroke-width="0.64">Apr 26</text>
<text x="0.0" y="0.0" font-size="25.5" font-weight="bold" text-anchor="end" fill="#000" transform="translate(2022.0,1416.3) rotate(-33) scale(1.0,1)" word-spacing="-3.6" stroke="#000" stroke-width="0.64">May 3</text>
<text x="0.0" y="0.0" font-size="25.5" font-weight="bold" text-anchor="end" fill="#000" transform="translate(2087.4,1416.3) rotate(-33) scale(1.0,1)" word-spacing="-3.6" stroke="#000" stroke-width="0.64">May 10</text>
<text x="0.0" y="0.0" font-size="25.5" font-weight="bold" text-anchor="end" fill="#000" transform="translate(2152.8,1416.3) rotate(-33) scale(1.0,1)" word-spacing="-3.6" stroke="#000" stroke-width="0.64">May 17</text>
<text x="0.0" y="0.0" font-size="25.5" font-weight="bold" text-anchor="end" fill="#000" transform="translate(2218.3,1416.3) rotate(-33) scale(1.0,1)" word-spacing="-3.6" stroke="#000" stroke-width="0.64">May 24</text>
<text x="0.0" y="0.0" font-size="25.5" font-weight="bold" text-anchor="end" fill="#000" transform="translate(2283.7,1416.3) rotate(-33) scale(1.0,1)" word-spacing="-3.6" stroke="#000" stroke-width="0.64">May 31</text>
<text x="0.0" y="0.0" font-size="25.5" font-weight="bold" text-anchor="end" fill="#000" transform="translate(2349.1,1416.3) rotate(-33) scale(1.0,1)" word-spacing="-3.6" stroke="#000" stroke-width="0.64">Jun 7</text>
<text x="0.0" y="0.0" font-size="25.5" font-weight="bold" text-anchor="end" fill="#000" transform="translate(2414.5,1416.3) rotate(-33) scale(1.0,1)" word-spacing="-3.6" stroke="#000" stroke-width="0.64">Jun 14</text>
<text x="0.0" y="0.0" font-size="25.5" font-weight="bold" text-anchor="end" fill="#000" transform="translate(2480.0,1416.3) rotate(-33) scale(1.0,1)" word-spacing="-3.6" stroke="#000" stroke-width="0.64">Jun 21</text>
<text x="0.0" y="0.0" font-size="25.5" font-weight="bold" text-anchor="end" fill="#000" transform="translate(2545.4,1416.3) rotate(-33) scale(1.0,1)" word-spacing="-3.6" stroke="#000" stroke-width="0.64">Jun 28</text>
<path d="M1608.0 1381.5 L1614.0 1373.0 L1614.2 1370.4 L1640.2 1361.3 L1666.3 1337.8 L1692.3 1307.9 L1718.3 1271.5 L1744.3 1227.2 L1770.4 1181.7 L1780.0 1168.1 L1781.6 1162.6 L1784.7 1154.8 L1790.1 1148.5 L1798.0 1143.1 L1805.8 1138.4 L1811.2 1129.8 L1815.9 1125.9 L1820.6 1124.3 L1826.8 1124.3 L1833.1 1125.9 L1838.5 1124.0 L1844.8 1122.4 L1850.3 1122.0 L1855.3 1118.9 L1860.4 1111.5 L1865.1 1113.4 L1870.6 1115.8 L1876.8 1120.1 L1881.5 1122.8 L1887.7 1125.1 L1904.4 1132.2 L1916.1 1151.8 L1926.6 1160.9 L1935.7 1159.1 L1947.4 1164.3 L1965.6 1173.9 L1981.2 1162.2 L1991.6 1166.9 L2004.6 1172.1 L2017.6 1171.3 L2030.7 1166.9 L2043.7 1172.6 L2054.1 1174.7 L2064.5 1176.5 L2074.9 1183.0 L2085.3 1185.6 L2095.7 1194.7 L2108.7 1201.2 L2121.7 1215.5 L2134.8 1223.3 L2147.8 1233.7 L2153.0 1236.3 L2167.3 1244.2 L2181.6 1245.5 L2194.7 1243.4 L2203.8 1240.2 L2215.5 1244.9 L2236.3 1257.2 L2254.5 1268.9 L2264.9 1279.3 L2272.7 1287.1 L2283.1 1288.4 L2298.8 1294.9 L2310.5 1307.9" fill="none" stroke="#7f7f7f" stroke-width="4.2" stroke-dasharray="8.6 8.6" stroke-linejoin="round" stroke-linecap="round"/>
<use href="#m_se" x="1430.7" y="1383.8"/>
<use href="#m_se" x="1440.0" y="1383.8"/>
<use href="#m_se" x="1449.4" y="1383.8"/>
<use href="#m_se" x="1458.7" y="1383.8"/>
<use href="#m_se" x="1468.1" y="1383.8"/>
<use href="#m_se" x="1477.4" y="1383.8"/>
<use href="#m_se" x="1486.8" y="1383.8"/>
<use href="#m_se" x="1496.1" y="1383.8"/>
<use href="#m_se" x="1505.5" y="1383.8"/>
<use href="#m_se" x="1514.8" y="1383.8"/>
<use href="#m_se" x="1524.2" y="1382.7"/>
<use href="#m_se" x="1533.5" y="1382.7"/>
<use href="#m_se" x="1542.9" y="1382.7"/>
<use href="#m_se" x="1552.2" y="1383.3"/>
<use href="#m_se" x="1561.5" y="1382.2"/>
<use href="#m_se" x="1570.9" y="1381.1"/>
<use href="#m_se" x="1580.2" y="1380.8"/>
<use href="#m_se" x="1589.6" y="1380.2"/>
<use href="#m_se" x="1598.9" y="1379.7"/>
<use href="#m_se" x="1608.3" y="1378.0"/>
<use href="#m_se" x="1617.6" y="1377.0"/>
<use href="#m_se" x="1627.0" y="1377.0"/>
<use href="#m_se" x="1636.3" y="1376.1"/>
<use href="#m_se" x="1645.7" y="1370.9"/>
<use href="#m_se" x="1655.0" y="1363.3"/>
<use href="#m_se" x="1664.4" y="1357.5"/>
<use href="#m_se" x="1673.7" y="1349.0"/>
<use href="#m_se" x="1683.0" y="1349.6"/>
<use href="#m_se" x="1692.4" y="1349.0"/>
<use href="#m_se" x="1701.7" y="1335.9"/>
<use href="#m_se" x="1711.1" y="1327.4"/>
<use href="#m_se" x="1720.4" y="1313.7"/>
<use href="#m_se" x="1729.8" y="1292.9"/>
<use href="#m_se" x="1739.1" y="1284.9"/>
<use href="#m_se" x="1748.5" y="1279.2"/>
<use href="#m_se" x="1757.8" y="1269.9"/>
<use href="#m_se" x="1767.2" y="1253.7"/>
<use href="#m_se" x="1776.5" y="1223.0"/>
<use href="#m_se" x="1785.8" y="1209.1"/>
<use href="#m_se" x="1795.2" y="1193.7"/>
<use href="#m_se" x="1804.5" y="1183.3"/>
<use href="#m_se" x="1813.9" y="1182.5"/>
<use href="#m_se" x="1823.2" y="1188.5"/>
<use href="#m_se" x="1832.6" y="1210.7"/>
<use href="#m_se" x="1841.9" y="1210.7"/>
<use href="#m_se" x="1851.3" y="1181.7"/>
<use href="#m_se" x="1860.6" y="1172.9"/>
<use href="#m_se" x="1870.0" y="1177.0"/>
<use href="#m_se" x="1879.3" y="1139.5"/>
<use href="#m_se" x="1888.7" y="1132.6"/>
<use href="#m_se" x="1898.0" y="1126.1"/>
<use href="#m_se" x="1907.3" y="1097.3"/>
<use href="#m_se" x="1916.7" y="1096.5"/>
<use href="#m_se" x="1926.0" y="1114.8"/>
<use href="#m_se" x="1935.4" y="1089.6"/>
<use href="#m_se" x="1944.7" y="1117.6"/>
<use href="#m_se" x="1954.1" y="1128.0"/>
<use href="#m_se" x="1963.4" y="1112.9"/>
<use href="#m_se" x="1972.8" y="1152.6"/>
<use href="#m_se" x="1982.1" y="1178.6"/>
<use href="#m_se" x="1991.5" y="1162.5"/>
<use href="#m_se" x="2000.8" y="1187.7"/>
<use href="#m_se" x="2010.2" y="1197.0"/>
<use href="#m_se" x="2019.5" y="1194.3"/>
<use href="#m_se" x="2028.8" y="1189.9"/>
<use href="#m_se" x="2038.2" y="1188.5"/>
<use href="#m_se" x="2047.5" y="1197.0"/>
<use href="#m_se" x="2056.9" y="1205.5"/>
<use href="#m_se" x="2066.2" y="1180.3"/>
<use href="#m_se" x="2075.6" y="1167.1"/>
<use href="#m_se" x="2084.9" y="1169.6"/>
<use href="#m_se" x="2094.3" y="1192.6"/>
<use href="#m_se" x="2103.6" y="1203.6"/>
<use href="#m_se" x="2113.0" y="1180.8"/>
<use href="#m_se" x="2122.3" y="1192.6"/>
<use href="#m_se" x="2131.7" y="1199.5"/>
<use href="#m_se" x="2141.0" y="1205.5"/>
<use href="#m_se" x="2150.3" y="1205.5"/>
<use href="#m_se" x="2159.7" y="1210.4"/>
<use href="#m_se" x="2169.0" y="1215.9"/>
<use href="#m_se" x="2178.4" y="1238.9"/>
<use href="#m_se" x="2187.7" y="1249.9"/>
<use href="#m_se" x="2197.1" y="1275.1"/>
<use href="#m_se" x="2206.4" y="1258.9"/>
<use href="#m_se" x="2215.8" y="1258.9"/>
<use href="#m_se" x="2225.1" y="1253.7"/>
<use href="#m_se" x="2234.5" y="1233.7"/>
<use href="#m_se" x="2243.8" y="1231.5"/>
<use href="#m_se" x="2253.1" y="1229.0"/>
<use href="#m_se" x="2262.5" y="1217.8"/>
<use href="#m_se" x="2271.8" y="1225.5"/>
<use href="#m_se" x="2281.2" y="1229.0"/>
<use href="#m_se" x="2290.5" y="1238.1"/>
<use href="#m_se" x="2299.9" y="1249.9"/>
<use href="#m_se" x="2309.2" y="1257.5"/>
<use href="#m_se" x="2318.6" y="1268.2"/>
<use href="#m_se" x="2327.9" y="1270.7"/>
<use href="#m_se" x="2337.3" y="1281.9"/>
<use href="#m_se" x="2346.6" y="1281.1"/>
<use href="#m_se" x="2356.0" y="1269.9"/>
<text x="2119.5" y="1068.5" font-size="27" font-weight="normal" text-anchor="middle" fill="#1a1a1a" textLength="168.5" lengthAdjust="spacingAndGlyphs" >Public Health</text>
<text x="2127.2" y="1103.6" font-size="27" font-weight="normal" text-anchor="middle" fill="#1a1a1a" textLength="236.3" lengthAdjust="spacingAndGlyphs" >Agency of Sweden</text>
<line x1="2073.1" y1="1113.2" x2="2040.5" y2="1163.5" stroke="#a6a6a6" stroke-width="2.8"/>
<line x1="2040.5" y1="1163.5" x2="2050.7" y2="1155.5" stroke="#a6a6a6" stroke-width="2.4" stroke-linecap="round"/>
<line x1="2040.5" y1="1163.5" x2="2043.7" y2="1150.9" stroke="#a6a6a6" stroke-width="2.4" stroke-linecap="round"/>
<rect x="1470.0" y="1023.2" width="255.9" height="127.5" fill="#fff"/>
<rect x="1470.0" y="1023.2" width="255.9" height="127.5" fill="#000"/>
<text x="1497.3" y="1057.0" font-size="27" font-weight="bold" text-anchor="start" fill="#fff" textLength="200.4" lengthAdjust="spacingAndGlyphs" >Deaths to Date</text>
<rect x="1498.2" y="1062.0" width="199.5" height="2" fill="#fff"/>
<text x="1524.0" y="1096.6" font-size="27" font-weight="bold" text-anchor="start" fill="#fff" textLength="149.4" lengthAdjust="spacingAndGlyphs" >4,694 Total</text>
<text x="1497.0" y="1136.1" font-size="27" font-weight="bold" text-anchor="start" fill="#fff" textLength="203.2" lengthAdjust="spacingAndGlyphs" >469 per Million</text>
<rect x="0.5" y="1502.5" width="1296" height="594.8" fill="#fff" stroke="#bfbfbf" stroke-width="1"/>
<text x="537.6" y="1562.9" font-size="49" font-weight="bold" text-anchor="start" fill="#000" textLength="215.9" lengthAdjust="spacingAndGlyphs" stroke="#000" stroke-width="0.78">Germany</text>
<line x1="104.3" x2="1242.9" y1="1918.8" y2="1918.8" stroke="#e3e3e3" stroke-width="1"/>
<line x1="104.3" x2="1242.9" y1="1843.1" y2="1843.1" stroke="#e3e3e3" stroke-width="1"/>
<line x1="104.3" x2="1242.9" y1="1767.5" y2="1767.5" stroke="#e3e3e3" stroke-width="1"/>
<line x1="104.3" x2="1242.9" y1="1691.8" y2="1691.8" stroke="#e3e3e3" stroke-width="1"/>
<line x1="104.3" x2="1242.9" y1="1616.1" y2="1616.1" stroke="#e3e3e3" stroke-width="1"/>
<line x1="105.5" x2="1242.9" y1="1994.5" y2="1994.5" stroke="#000" stroke-width="1.1"/>
<path d="M171.3 1994.5v-8M237.1 1994.5v-8M302.9 1994.5v-8M368.7 1994.5v-8M434.5 1994.5v-8M500.3 1994.5v-8M566.1 1994.5v-8M631.9 1994.5v-8M697.7 1994.5v-8M763.5 1994.5v-8M829.3 1994.5v-8M895.1 1994.5v-8M960.9 1994.5v-8M1026.7 1994.5v-8M1092.5 1994.5v-8M1158.3 1994.5v-8M1224.1 1994.5v-8" stroke="#000" stroke-width="1.1" fill="none"/>
<text x="78.5" y="2002.4" font-size="25.5" font-weight="bold" text-anchor="end" fill="#000" textLength="17.6" lengthAdjust="spacingAndGlyphs" stroke="#000" stroke-width="0.51">0</text>
<text x="78.5" y="1926.7" font-size="25.5" font-weight="bold" text-anchor="end" fill="#000" textLength="15.0" lengthAdjust="spacingAndGlyphs" stroke="#000" stroke-width="0.51">1</text>
<text x="78.5" y="1851.0" font-size="25.5" font-weight="bold" text-anchor="end" fill="#000" textLength="15.0" lengthAdjust="spacingAndGlyphs" stroke="#000" stroke-width="0.51">2</text>
<text x="78.5" y="1775.4" font-size="25.5" font-weight="bold" text-anchor="end" fill="#000" textLength="15.0" lengthAdjust="spacingAndGlyphs" stroke="#000" stroke-width="0.51">3</text>
<text x="78.5" y="1699.7" font-size="25.5" font-weight="bold" text-anchor="end" fill="#000" textLength="15.0" lengthAdjust="spacingAndGlyphs" stroke="#000" stroke-width="0.51">4</text>
<text x="78.5" y="1624.0" font-size="25.5" font-weight="bold" text-anchor="end" fill="#000" textLength="15.0" lengthAdjust="spacingAndGlyphs" stroke="#000" stroke-width="0.51">5</text>
<text x="0.0" y="0.0" font-size="25.5" font-weight="bold" text-anchor="end" fill="#000" transform="translate(108.0,2027.0) rotate(-33) scale(1.0,1)" word-spacing="-3.6" stroke="#000" stroke-width="0.64">Mar 1</text>
<text x="0.0" y="0.0" font-size="25.5" font-weight="bold" text-anchor="end" fill="#000" transform="translate(173.8,2027.0) rotate(-33) scale(1.0,1)" word-spacing="-3.6" stroke="#000" stroke-width="0.64">Mar 8</text>
<text x="0.0" y="0.0" font-size="25.5" font-weight="bold" text-anchor="end" fill="#000" transform="translate(239.6,2027.0) rotate(-33) scale(1.0,1)" word-spacing="-3.6" stroke="#000" stroke-width="0.64">Mar 15</text>
<text x="0.0" y="0.0" font-size="25.5" font-weight="bold" text-anchor="end" fill="#000" transform="translate(305.4,2027.0) rotate(-33) scale(1.0,1)" word-spacing="-3.6" stroke="#000" stroke-width="0.64">Mar 22</text>
<text x="0.0" y="0.0" font-size="25.5" font-weight="bold" text-anchor="end" fill="#000" transform="translate(371.2,2027.0) rotate(-33) scale(1.0,1)" word-spacing="-3.6" stroke="#000" stroke-width="0.64">Mar 29</text>
<text x="0.0" y="0.0" font-size="25.5" font-weight="bold" text-anchor="end" fill="#000" transform="translate(437.0,2027.0) rotate(-33) scale(1.0,1)" word-spacing="-3.6" stroke="#000" stroke-width="0.64">Apr 5</text>
<text x="0.0" y="0.0" font-size="25.5" font-weight="bold" text-anchor="end" fill="#000" transform="translate(502.8,2027.0) rotate(-33) scale(1.0,1)" word-spacing="-3.6" stroke="#000" stroke-width="0.64">Apr 12</text>
<text x="0.0" y="0.0" font-size="25.5" font-weight="bold" text-anchor="end" fill="#000" transform="translate(568.6,2027.0) rotate(-33) scale(1.0,1)" word-spacing="-3.6" stroke="#000" stroke-width="0.64">Apr 19</text>
<text x="0.0" y="0.0" font-size="25.5" font-weight="bold" text-anchor="end" fill="#000" transform="translate(634.4,2027.0) rotate(-33) scale(1.0,1)" word-spacing="-3.6" stroke="#000" stroke-width="0.64">Apr 26</text>
<text x="0.0" y="0.0" font-size="25.5" font-weight="bold" text-anchor="end" fill="#000" transform="translate(700.2,2027.0) rotate(-33) scale(1.0,1)" word-spacing="-3.6" stroke="#000" stroke-width="0.64">May 3</text>
<text x="0.0" y="0.0" font-size="25.5" font-weight="bold" text-anchor="end" fill="#000" transform="translate(766.0,2027.0) rotate(-33) scale(1.0,1)" word-spacing="-3.6" stroke="#000" stroke-width="0.64">May 10</text>
<text x="0.0" y="0.0" font-size="25.5" font-weight="bold" text-anchor="end" fill="#000" transform="translate(831.8,2027.0) rotate(-33) scale(1.0,1)" word-spacing="-3.6" stroke="#000" stroke-width="0.64">May 17</text>
<text x="0.0" y="0.0" font-size="25.5" font-weight="bold" text-anchor="end" fill="#000" transform="translate(897.6,2027.0) rotate(-33) scale(1.0,1)" word-spacing="-3.6" stroke="#000" stroke-width="0.64">May 24</text>
<text x="0.0" y="0.0" font-size="25.5" font-weight="bold" text-anchor="end" fill="#000" transform="translate(963.4,2027.0) rotate(-33) scale(1.0,1)" word-spacing="-3.6" stroke="#000" stroke-width="0.64">May 31</text>
<text x="0.0" y="0.0" font-size="25.5" font-weight="bold" text-anchor="end" fill="#000" transform="translate(1029.2,2027.0) rotate(-33) scale(1.0,1)" word-spacing="-3.6" stroke="#000" stroke-width="0.64">Jun 7</text>
<text x="0.0" y="0.0" font-size="25.5" font-weight="bold" text-anchor="end" fill="#000" transform="translate(1095.0,2027.0) rotate(-33) scale(1.0,1)" word-spacing="-3.6" stroke="#000" stroke-width="0.64">Jun 14</text>
<text x="0.0" y="0.0" font-size="25.5" font-weight="bold" text-anchor="end" fill="#000" transform="translate(1160.8,2027.0) rotate(-33) scale(1.0,1)" word-spacing="-3.6" stroke="#000" stroke-width="0.64">Jun 21</text>
<text x="0.0" y="0.0" font-size="25.5" font-weight="bold" text-anchor="end" fill="#000" transform="translate(1226.6,2027.0) rotate(-33) scale(1.0,1)" word-spacing="-3.6" stroke="#000" stroke-width="0.64">Jun 28</text>
<use href="#m_de" x="105.5" y="1994.5"/>
<use href="#m_de" x="114.9" y="1994.5"/>
<use href="#m_de" x="124.3" y="1994.5"/>
<use href="#m_de" x="133.7" y="1994.5"/>
<use href="#m_de" x="143.1" y="1994.5"/>
<use href="#m_de" x="152.5" y="1994.5"/>
<use href="#m_de" x="161.9" y="1994.5"/>
<use href="#m_de" x="171.3" y="1994.5"/>
<use href="#m_de" x="180.7" y="1994.5"/>
<use href="#m_de" x="190.1" y="1994.5"/>
<use href="#m_de" x="199.5" y="1994.0"/>
<use href="#m_de" x="208.9" y="1993.7"/>
<use href="#m_de" x="218.3" y="1993.0"/>
<use href="#m_de" x="227.7" y="1993.0"/>
<use href="#m_de" x="237.1" y="1992.2"/>
<use href="#m_de" x="246.5" y="1991.5"/>
<use href="#m_de" x="255.9" y="1991.1"/>
<use href="#m_de" x="265.3" y="1990.3"/>
<use href="#m_de" x="274.7" y="1989.2"/>
<use href="#m_de" x="284.1" y="1986.2"/>
<use href="#m_de" x="293.5" y="1984.7"/>
<use href="#m_de" x="302.9" y="1983.1"/>
<use href="#m_de" x="312.3" y="1980.1"/>
<use href="#m_de" x="321.7" y="1977.1"/>
<use href="#m_de" x="331.1" y="1971.8"/>
<use href="#m_de" x="340.5" y="1965.7"/>
<use href="#m_de" x="349.9" y="1958.9"/>
<use href="#m_de" x="359.3" y="1948.3"/>
<use href="#m_de" x="368.7" y="1937.7"/>
<use href="#m_de" x="378.1" y="1926.4"/>
<use href="#m_de" x="387.5" y="1914.3"/>
<use href="#m_de" x="396.9" y="1902.2"/>
<use href="#m_de" x="406.3" y="1885.5"/>
<use href="#m_de" x="415.7" y="1873.4"/>
<use href="#m_de" x="425.1" y="1862.8"/>
<use href="#m_de" x="434.5" y="1857.5"/>
<use href="#m_de" x="443.9" y="1842.4"/>
<use href="#m_de" x="453.3" y="1833.3"/>
<use href="#m_de" x="462.7" y="1808.3"/>
<use href="#m_de" x="472.1" y="1799.2"/>
<use href="#m_de" x="481.5" y="1800.0"/>
<use href="#m_de" x="490.9" y="1826.5"/>
<use href="#m_de" x="500.3" y="1807.6"/>
<use href="#m_de" x="509.7" y="1814.4"/>
<use href="#m_de" x="519.1" y="1828.8"/>
<use href="#m_de" x="528.5" y="1805.3"/>
<use href="#m_de" x="537.9" y="1806.1"/>
<use href="#m_de" x="547.3" y="1787.9"/>
<use href="#m_de" x="556.7" y="1770.5"/>
<use href="#m_de" x="566.1" y="1790.2"/>
<use href="#m_de" x="575.5" y="1778.1"/>
<use href="#m_de" x="584.9" y="1768.2"/>
<use href="#m_de" x="594.3" y="1802.3"/>
<use href="#m_de" x="603.7" y="1796.2"/>
<use href="#m_de" x="613.1" y="1811.4"/>
<use href="#m_de" x="622.5" y="1809.8"/>
<use href="#m_de" x="631.9" y="1813.6"/>
<use href="#m_de" x="641.3" y="1830.3"/>
<use href="#m_de" x="650.7" y="1827.2"/>
<use href="#m_de" x="660.1" y="1839.4"/>
<use href="#m_de" x="669.5" y="1858.3"/>
<use href="#m_de" x="678.9" y="1867.4"/>
<use href="#m_de" x="688.3" y="1872.7"/>
<use href="#m_de" x="697.7" y="1878.7"/>
<use href="#m_de" x="707.1" y="1881.7"/>
<use href="#m_de" x="716.5" y="1906.7"/>
<use href="#m_de" x="725.9" y="1889.3"/>
<use href="#m_de" x="735.3" y="1894.6"/>
<use href="#m_de" x="744.7" y="1893.8"/>
<use href="#m_de" x="754.1" y="1898.4"/>
<use href="#m_de" x="763.5" y="1902.9"/>
<use href="#m_de" x="772.9" y="1907.5"/>
<use href="#m_de" x="782.3" y="1896.9"/>
<use href="#m_de" x="791.7" y="1918.1"/>
<use href="#m_de" x="801.1" y="1930.2"/>
<use href="#m_de" x="810.5" y="1944.6"/>
<use href="#m_de" x="819.9" y="1944.6"/>
<use href="#m_de" x="829.3" y="1943.0"/>
<use href="#m_de" x="838.7" y="1949.8"/>
<use href="#m_de" x="848.1" y="1949.8"/>
<use href="#m_de" x="857.5" y="1957.8"/>
<use href="#m_de" x="866.9" y="1953.6"/>
<use href="#m_de" x="876.3" y="1951.7"/>
<use href="#m_de" x="885.7" y="1952.5"/>
<use href="#m_de" x="895.1" y="1952.5"/>
<use href="#m_de" x="904.5" y="1954.4"/>
<use href="#m_de" x="913.9" y="1956.7"/>
<use href="#m_de" x="923.3" y="1957.8"/>
<use href="#m_de" x="932.7" y="1959.7"/>
<use href="#m_de" x="942.1" y="1958.6"/>
<use href="#m_de" x="951.5" y="1959.7"/>
<use href="#m_de" x="960.9" y="1961.2"/>
<use href="#m_de" x="970.3" y="1962.0"/>
<use href="#m_de" x="979.7" y="1968.8"/>
<use href="#m_de" x="989.1" y="1971.8"/>
<use href="#m_de" x="998.5" y="1973.3"/>
<use href="#m_de" x="1007.9" y="1974.1"/>
<use href="#m_de" x="1017.3" y="1976.3"/>
<use href="#m_de" x="1026.7" y="1975.6"/>
<use href="#m_de" x="1036.1" y="1976.0"/>
<rect x="145.9" y="1661.9" width="236.1" height="129.9" fill="#fff"/>
<rect x="145.9" y="1661.9" width="236.1" height="129.9" fill="#000"/>
<text x="163.3" y="1696.3" font-size="27" font-weight="bold" text-anchor="start" fill="#fff" textLength="200.4" lengthAdjust="spacingAndGlyphs" >Deaths to Date</text>
<rect x="164.2" y="1701.3" width="199.5" height="2" fill="#fff"/>
<text x="189.5" y="1736.1" font-size="27" font-weight="bold" text-anchor="start" fill="#fff" textLength="150.0" lengthAdjust="spacingAndGlyphs" >8,695 Total</text>
<text x="162.3" y="1775.7" font-size="27" font-weight="bold" text-anchor="start" fill="#fff" textLength="203.2" lengthAdjust="spacingAndGlyphs" >105 per Million</text>
<rect x="1319.5" y="1502.5" width="1296" height="594.8" fill="#fff" stroke="#bfbfbf" stroke-width="1"/>
<text x="1880.6" y="1567.5" font-size="49" font-weight="bold" text-anchor="start" fill="#000" textLength="174.8" lengthAdjust="spacingAndGlyphs" stroke="#000" stroke-width="0.78">Canada</text>
<line x1="1420.1" x2="2561.1" y1="1923.3" y2="1923.3" stroke="#e3e3e3" stroke-width="1"/>
<line x1="1420.1" x2="2561.1" y1="1847.8" y2="1847.8" stroke="#e3e3e3" stroke-width="1"/>
<line x1="1420.1" x2="2561.1" y1="1772.3" y2="1772.3" stroke="#e3e3e3" stroke-width="1"/>
<line x1="1420.1" x2="2561.1" y1="1696.8" y2="1696.8" stroke="#e3e3e3" stroke-width="1"/>
<line x1="1420.1" x2="2561.1" y1="1621.3" y2="1621.3" stroke="#e3e3e3" stroke-width="1"/>
<line x1="1421.3" x2="2561.1" y1="1998.8" y2="1998.8" stroke="#000" stroke-width="1.1"/>
<path d="M1487.2 1998.8v-8M1553.2 1998.8v-8M1619.1 1998.8v-8M1685.1 1998.8v-8M1751.0 1998.8v-8M1816.9 1998.8v-8M1882.9 1998.8v-8M1948.8 1998.8v-8M2014.8 1998.8v-8M2080.7 1998.8v-8M2146.6 1998.8v-8M2212.6 1998.8v-8M2278.5 1998.8v-8M2344.5 1998.8v-8M2410.4 1998.8v-8M2476.3 1998.8v-8M2542.3 1998.8v-8" stroke="#000" stroke-width="1.1" fill="none"/>
<text x="1394.2" y="2006.7" font-size="25.5" font-weight="bold" text-anchor="end" fill="#000" textLength="17.6" lengthAdjust="spacingAndGlyphs" stroke="#000" stroke-width="0.51">0</text>
<text x="1394.2" y="1931.2" font-size="25.5" font-weight="bold" text-anchor="end" fill="#000" textLength="15.0" lengthAdjust="spacingAndGlyphs" stroke="#000" stroke-width="0.51">1</text>
<text x="1394.2" y="1855.7" font-size="25.5" font-weight="bold" text-anchor="end" fill="#000" textLength="15.0" lengthAdjust="spacingAndGlyphs" stroke="#000" stroke-width="0.51">2</text>
<text x="1394.2" y="1780.2" font-size="25.5" font-weight="bold" text-anchor="end" fill="#000" textLength="15.0" lengthAdjust="spacingAndGlyphs" stroke="#000" stroke-width="0.51">3</text>
<text x="1394.2" y="1704.7" font-size="25.5" font-weight="bold" text-anchor="end" fill="#000" textLength="15.0" lengthAdjust="spacingAndGlyphs" stroke="#000" stroke-width="0.51">4</text>
<text x="1394.2" y="1629.2" font-size="25.5" font-weight="bold" text-anchor="end" fill="#000" textLength="15.0" lengthAdjust="spacingAndGlyphs" stroke="#000" stroke-width="0.51">5</text>
<text x="0.0" y="0.0" font-size="25.5" font-weight="bold" text-anchor="end" fill="#000" transform="translate(1423.8,2031.3) rotate(-33) scale(1.0,1)" word-spacing="-3.6" stroke="#000" stroke-width="0.64">Mar 1</text>
<text x="0.0" y="0.0" font-size="25.5" font-weight="bold" text-anchor="end" fill="#000" transform="translate(1489.7,2031.3) rotate(-33) scale(1.0,1)" word-spacing="-3.6" stroke="#000" stroke-width="0.64">Mar 8</text>
<text x="0.0" y="0.0" font-size="25.5" font-weight="bold" text-anchor="end" fill="#000" transform="translate(1555.7,2031.3) rotate(-33) scale(1.0,1)" word-spacing="-3.6" stroke="#000" stroke-width="0.64">Mar 15</text>
<text x="0.0" y="0.0" font-size="25.5" font-weight="bold" text-anchor="end" fill="#000" transform="translate(1621.6,2031.3) rotate(-33) scale(1.0,1)" word-spacing="-3.6" stroke="#000" stroke-width="0.64">Mar 22</text>
<text x="0.0" y="0.0" font-size="25.5" font-weight="bold" text-anchor="end" fill="#000" transform="translate(1687.6,2031.3) rotate(-33) scale(1.0,1)" word-spacing="-3.6" stroke="#000" stroke-width="0.64">Mar 29</text>
<text x="0.0" y="0.0" font-size="25.5" font-weight="bold" text-anchor="end" fill="#000" transform="translate(1753.5,2031.3) rotate(-33) scale(1.0,1)" word-spacing="-3.6" stroke="#000" stroke-width="0.64">Apr 5</text>
<text x="0.0" y="0.0" font-size="25.5" font-weight="bold" text-anchor="end" fill="#000" transform="translate(1819.4,2031.3) rotate(-33) scale(1.0,1)" word-spacing="-3.6" stroke="#000" stroke-width="0.64">Apr 12</text>
<text x="0.0" y="0.0" font-size="25.5" font-weight="bold" text-anchor="end" fill="#000" transform="translate(1885.4,2031.3) rotate(-33) scale(1.0,1)" word-spacing="-3.6" stroke="#000" stroke-width="0.64">Apr 19</text>
<text x="0.0" y="0.0" font-size="25.5" font-weight="bold" text-anchor="end" fill="#000" transform="translate(1951.3,2031.3) rotate(-33) scale(1.0,1)" word-spacing="-3.6" stroke="#000" stroke-width="0.64">Apr 26</text>
<text x="0.0" y="0.0" font-size="25.5" font-weight="bold" text-anchor="end" fill="#000" transform="translate(2017.3,2031.3) rotate(-33) scale(1.0,1)" word-spacing="-3.6" stroke="#000" stroke-width="0.64">May 3</text>
<text x="0.0" y="0.0" font-size="25.5" font-weight="bold" text-anchor="end" fill="#000" transform="translate(2083.2,2031.3) rotate(-33) scale(1.0,1)" word-spacing="-3.6" stroke="#000" stroke-width="0.64">May 10</text>
<text x="0.0" y="0.0" font-size="25.5" font-weight="bold" text-anchor="end" fill="#000" transform="translate(2149.1,2031.3) rotate(-33) scale(1.0,1)" word-spacing="-3.6" stroke="#000" stroke-width="0.64">May 17</text>
<text x="0.0" y="0.0" font-size="25.5" font-weight="bold" text-anchor="end" fill="#000" transform="translate(2215.1,2031.3) rotate(-33) scale(1.0,1)" word-spacing="-3.6" stroke="#000" stroke-width="0.64">May 24</text>
<text x="0.0" y="0.0" font-size="25.5" font-weight="bold" text-anchor="end" fill="#000" transform="translate(2281.0,2031.3) rotate(-33) scale(1.0,1)" word-spacing="-3.6" stroke="#000" stroke-width="0.64">May 31</text>
<text x="0.0" y="0.0" font-size="25.5" font-weight="bold" text-anchor="end" fill="#000" transform="translate(2347.0,2031.3) rotate(-33) scale(1.0,1)" word-spacing="-3.6" stroke="#000" stroke-width="0.64">Jun 7</text>
<text x="0.0" y="0.0" font-size="25.5" font-weight="bold" text-anchor="end" fill="#000" transform="translate(2412.9,2031.3) rotate(-33) scale(1.0,1)" word-spacing="-3.6" stroke="#000" stroke-width="0.64">Jun 14</text>
<text x="0.0" y="0.0" font-size="25.5" font-weight="bold" text-anchor="end" fill="#000" transform="translate(2478.8,2031.3) rotate(-33) scale(1.0,1)" word-spacing="-3.6" stroke="#000" stroke-width="0.64">Jun 21</text>
<text x="0.0" y="0.0" font-size="25.5" font-weight="bold" text-anchor="end" fill="#000" transform="translate(2544.8,2031.3) rotate(-33) scale(1.0,1)" word-spacing="-3.6" stroke="#000" stroke-width="0.64">Jun 28</text>
<use href="#m_ca" x="1421.3" y="1998.8"/>
<use href="#m_ca" x="1430.7" y="1998.8"/>
<use href="#m_ca" x="1440.1" y="1998.8"/>
<use href="#m_ca" x="1449.6" y="1998.8"/>
<use href="#m_ca" x="1459.0" y="1998.8"/>
<use href="#m_ca" x="1468.4" y="1998.8"/>
<use href="#m_ca" x="1477.8" y="1998.8"/>
<use href="#m_ca" x="1487.2" y="1998.8"/>
<use href="#m_ca" x="1496.7" y="1998.8"/>
<use href="#m_ca" x="1506.1" y="1998.8"/>
<use href="#m_ca" x="1515.5" y="1998.8"/>
<use href="#m_ca" x="1524.9" y="1998.8"/>
<use href="#m_ca" x="1534.3" y="1998.8"/>
<use href="#m_ca" x="1543.8" y="1998.8"/>
<use href="#m_ca" x="1553.2" y="1998.3"/>
<use href="#m_ca" x="1562.6" y="1998.0"/>
<use href="#m_ca" x="1572.0" y="1997.5"/>
<use href="#m_ca" x="1581.4" y="1996.5"/>
<use href="#m_ca" x="1590.9" y="1996.2"/>
<use href="#m_ca" x="1600.3" y="1995.4"/>
<use href="#m_ca" x="1609.7" y="1993.5"/>
<use href="#m_ca" x="1619.1" y="1992.8"/>
<use href="#m_ca" x="1628.5" y="1992.8"/>
<use href="#m_ca" x="1638.0" y="1992.8"/>
<use href="#m_ca" x="1647.4" y="1992.8"/>
<use href="#m_ca" x="1656.8" y="1991.2"/>
<use href="#m_ca" x="1666.2" y="1987.1"/>
<use href="#m_ca" x="1675.6" y="1987.1"/>
<use href="#m_ca" x="1685.1" y="1987.1"/>
<use href="#m_ca" x="1694.5" y="1982.9"/>
<use href="#m_ca" x="1703.9" y="1977.7"/>
<use href="#m_ca" x="1713.3" y="1976.1"/>
<use href="#m_ca" x="1722.7" y="1970.1"/>
<use href="#m_ca" x="1732.2" y="1962.6"/>
<use href="#m_ca" x="1741.6" y="1954.3"/>
<use href="#m_ca" x="1751.0" y="1944.4"/>
<use href="#m_ca" x="1760.4" y="1924.8"/>
<use href="#m_ca" x="1769.8" y="1921.0"/>
<use href="#m_ca" x="1779.3" y="1914.2"/>
<use href="#m_ca" x="1788.7" y="1896.1"/>
<use href="#m_ca" x="1798.1" y="1891.6"/>
<use href="#m_ca" x="1807.5" y="1875.0"/>
<use href="#m_ca" x="1816.9" y="1869.7"/>
<use href="#m_ca" x="1826.4" y="1873.5"/>
<use href="#m_ca" x="1835.8" y="1850.1"/>
<use href="#m_ca" x="1845.2" y="1827.4"/>
<use href="#m_ca" x="1854.6" y="1784.4"/>
<use href="#m_ca" x="1864.0" y="1772.3"/>
<use href="#m_ca" x="1873.5" y="1787.4"/>
<use href="#m_ca" x="1882.9" y="1757.2"/>
<use href="#m_ca" x="1892.3" y="1730.8"/>
<use href="#m_ca" x="1901.7" y="1713.4"/>
<use href="#m_ca" x="1911.1" y="1694.5"/>
<use href="#m_ca" x="1920.6" y="1720.2"/>
<use href="#m_ca" x="1930.0" y="1702.1"/>
<use href="#m_ca" x="1939.4" y="1666.6"/>
<use href="#m_ca" x="1948.8" y="1680.9"/>
<use href="#m_ca" x="1958.2" y="1683.2"/>
<use href="#m_ca" x="1967.7" y="1693.8"/>
<use href="#m_ca" x="1977.1" y="1693.0"/>
<use href="#m_ca" x="1986.5" y="1696.0"/>
<use href="#m_ca" x="1995.9" y="1676.4"/>
<use href="#m_ca" x="2005.3" y="1683.2"/>
<use href="#m_ca" x="2014.8" y="1684.7"/>
<use href="#m_ca" x="2024.2" y="1668.9"/>
<use href="#m_ca" x="2033.6" y="1656.0"/>
<use href="#m_ca" x="2043.0" y="1655.3"/>
<use href="#m_ca" x="2052.4" y="1649.2"/>
<use href="#m_ca" x="2061.9" y="1669.6"/>
<use href="#m_ca" x="2071.3" y="1675.7"/>
<use href="#m_ca" x="2080.7" y="1659.8"/>
<use href="#m_ca" x="2090.1" y="1683.2"/>
<use href="#m_ca" x="2099.5" y="1684.0"/>
<use href="#m_ca" x="2109.0" y="1698.3"/>
<use href="#m_ca" x="2118.4" y="1700.6"/>
<use href="#m_ca" x="2127.8" y="1720.2"/>
<use href="#m_ca" x="2137.2" y="1721.7"/>
<use href="#m_ca" x="2146.6" y="1740.6"/>
<use href="#m_ca" x="2156.1" y="1759.5"/>
<use href="#m_ca" x="2165.5" y="1792.7"/>
<use href="#m_ca" x="2174.9" y="1793.4"/>
<use href="#m_ca" x="2184.3" y="1807.8"/>
<use href="#m_ca" x="2193.7" y="1806.3"/>
<use href="#m_ca" x="2203.2" y="1810.0"/>
<use href="#m_ca" x="2212.6" y="1820.6"/>
<use href="#m_ca" x="2222.0" y="1801.7"/>
<use href="#m_ca" x="2231.4" y="1793.4"/>
<use href="#m_ca" x="2240.8" y="1793.4"/>
<use href="#m_ca" x="2250.3" y="1796.5"/>
<use href="#m_ca" x="2259.7" y="1799.5"/>
<use href="#m_ca" x="2269.1" y="1801.7"/>
<use href="#m_ca" x="2278.5" y="1761.0"/>
<use href="#m_ca" x="2287.9" y="1785.9"/>
<use href="#m_ca" x="2297.4" y="1793.4"/>
<use href="#m_ca" x="2306.8" y="1799.5"/>
<use href="#m_ca" x="2316.2" y="1789.7"/>
<use href="#m_ca" x="2325.6" y="1795.7"/>
<use href="#m_ca" x="2335.0" y="1802.5"/>
<use href="#m_ca" x="2344.5" y="1856.1"/>
<use href="#m_ca" x="2353.9" y="1855.3"/>
<rect x="1466.0" y="1673.1" width="266.8" height="126.8" fill="#fff"/>
<rect x="1466.0" y="1673.1" width="266.8" height="126.8" fill="#000"/>
<text x="1498.7" y="1707.2" font-size="27" font-weight="bold" text-anchor="start" fill="#fff" textLength="200.4" lengthAdjust="spacingAndGlyphs" >Deaths to Date</text>
<rect x="1499.7" y="1712.2" width="199.5" height="2" fill="#fff"/>
<text x="1524.6" y="1747.6" font-size="27" font-weight="bold" text-anchor="start" fill="#fff" textLength="150.3" lengthAdjust="spacingAndGlyphs" >7,910 Total</text>
<text x="1498.1" y="1786.6" font-size="27" font-weight="bold" text-anchor="start" fill="#fff" textLength="203.4" lengthAdjust="spacingAndGlyphs" >208 per Million</text>
<rect x="0.5" y="2118.5" width="1296" height="594.8" fill="#fff" stroke="#bfbfbf" stroke-width="1"/>
<text x="524.4" y="2179.2" font-size="49" font-weight="bold" text-anchor="start" fill="#000" textLength="239.1" lengthAdjust="spacingAndGlyphs" stroke="#000" stroke-width="0.78">Argentina</text>
<line x1="111.9" x2="1242.6" y1="2425.0" y2="2425.0" stroke="#e3e3e3" stroke-width="1"/>
<line x1="111.9" x2="1242.6" y1="2234.0" y2="2234.0" stroke="#e3e3e3" stroke-width="1"/>
<line x1="113.1" x2="1242.6" y1="2616.0" y2="2616.0" stroke="#000" stroke-width="1.1"/>
<path d="M178.4 2616.0v-8M243.8 2616.0v-8M309.1 2616.0v-8M374.5 2616.0v-8M439.8 2616.0v-8M505.2 2616.0v-8M570.5 2616.0v-8M635.9 2616.0v-8M701.2 2616.0v-8M766.6 2616.0v-8M831.9 2616.0v-8M897.2 2616.0v-8M962.6 2616.0v-8M1027.9 2616.0v-8M1093.3 2616.0v-8M1158.6 2616.0v-8M1224.0 2616.0v-8" stroke="#000" stroke-width="1.1" fill="none"/>
<text x="85.5" y="2623.9" font-size="25.5" font-weight="bold" text-anchor="end" fill="#000" textLength="42.5" lengthAdjust="spacingAndGlyphs" stroke="#000" stroke-width="0.51">0.0</text>
<text x="85.5" y="2432.9" font-size="25.5" font-weight="bold" text-anchor="end" fill="#000" textLength="35.1" lengthAdjust="spacingAndGlyphs" stroke="#000" stroke-width="0.51">0.1</text>
<text x="85.5" y="2241.9" font-size="25.5" font-weight="bold" text-anchor="end" fill="#000" textLength="39.7" lengthAdjust="spacingAndGlyphs" stroke="#000" stroke-width="0.51">0.2</text>
<text x="0.0" y="0.0" font-size="25.5" font-weight="bold" text-anchor="end" fill="#000" transform="translate(115.6,2648.5) rotate(-33) scale(1.0,1)" word-spacing="-3.6" stroke="#000" stroke-width="0.64">Mar 1</text>
<text x="0.0" y="0.0" font-size="25.5" font-weight="bold" text-anchor="end" fill="#000" transform="translate(180.9,2648.5) rotate(-33) scale(1.0,1)" word-spacing="-3.6" stroke="#000" stroke-width="0.64">Mar 8</text>
<text x="0.0" y="0.0" font-size="25.5" font-weight="bold" text-anchor="end" fill="#000" transform="translate(246.3,2648.5) rotate(-33) scale(1.0,1)" word-spacing="-3.6" stroke="#000" stroke-width="0.64">Mar 15</text>
<text x="0.0" y="0.0" font-size="25.5" font-weight="bold" text-anchor="end" fill="#000" transform="translate(311.6,2648.5) rotate(-33) scale(1.0,1)" word-spacing="-3.6" stroke="#000" stroke-width="0.64">Mar 22</text>
<text x="0.0" y="0.0" font-size="25.5" font-weight="bold" text-anchor="end" fill="#000" transform="translate(377.0,2648.5) rotate(-33) scale(1.0,1)" word-spacing="-3.6" stroke="#000" stroke-width="0.64">Mar 29</text>
<text x="0.0" y="0.0" font-size="25.5" font-weight="bold" text-anchor="end" fill="#000" transform="translate(442.3,2648.5) rotate(-33) scale(1.0,1)" word-spacing="-3.6" stroke="#000" stroke-width="0.64">Apr 5</text>
<text x="0.0" y="0.0" font-size="25.5" font-weight="bold" text-anchor="end" fill="#000" transform="translate(507.7,2648.5) rotate(-33) scale(1.0,1)" word-spacing="-3.6" stroke="#000" stroke-width="0.64">Apr 12</text>
<text x="0.0" y="0.0" font-size="25.5" font-weight="bold" text-anchor="end" fill="#000" transform="translate(573.0,2648.5) rotate(-33) scale(1.0,1)" word-spacing="-3.6" stroke="#000" stroke-width="0.64">Apr 19</text>
<text x="0.0" y="0.0" font-size="25.5" font-weight="bold" text-anchor="end" fill="#000" transform="translate(638.4,2648.5) rotate(-33) scale(1.0,1)" word-spacing="-3.6" stroke="#000" stroke-width="0.64">Apr 26</text>
<text x="0.0" y="0.0" font-size="25.5" font-weight="bold" text-anchor="end" fill="#000" transform="translate(703.7,2648.5) rotate(-33) scale(1.0,1)" word-spacing="-3.6" stroke="#000" stroke-width="0.64">May 3</text>
<text x="0.0" y="0.0" font-size="25.5" font-weight="bold" text-anchor="end" fill="#000" transform="translate(769.1,2648.5) rotate(-33) scale(1.0,1)" word-spacing="-3.6" stroke="#000" stroke-width="0.64">May 10</text>
<text x="0.0" y="0.0" font-size="25.5" font-weight="bold" text-anchor="end" fill="#000" transform="translate(834.4,2648.5) rotate(-33) scale(1.0,1)" word-spacing="-3.6" stroke="#000" stroke-width="0.64">May 17</text>
<text x="0.0" y="0.0" font-size="25.5" font-weight="bold" text-anchor="end" fill="#000" transform="translate(899.7,2648.5) rotate(-33) scale(1.0,1)" word-spacing="-3.6" stroke="#000" stroke-width="0.64">May 24</text>
<text x="0.0" y="0.0" font-size="25.5" font-weight="bold" text-anchor="end" fill="#000" transform="translate(965.1,2648.5) rotate(-33) scale(1.0,1)" word-spacing="-3.6" stroke="#000" stroke-width="0.64">May 31</text>
<text x="0.0" y="0.0" font-size="25.5" font-weight="bold" text-anchor="end" fill="#000" transform="translate(1030.4,2648.5) rotate(-33) scale(1.0,1)" word-spacing="-3.6" stroke="#000" stroke-width="0.64">Jun 7</text>
<text x="0.0" y="0.0" font-size="25.5" font-weight="bold" text-anchor="end" fill="#000" transform="translate(1095.8,2648.5) rotate(-33) scale(1.0,1)" word-spacing="-3.6" stroke="#000" stroke-width="0.64">Jun 14</text>
<text x="0.0" y="0.0" font-size="25.5" font-weight="bold" text-anchor="end" fill="#000" transform="translate(1161.1,2648.5) rotate(-33) scale(1.0,1)" word-spacing="-3.6" stroke="#000" stroke-width="0.64">Jun 21</text>
<text x="0.0" y="0.0" font-size="25.5" font-weight="bold" text-anchor="end" fill="#000" transform="translate(1226.5,2648.5) rotate(-33) scale(1.0,1)" word-spacing="-3.6" stroke="#000" stroke-width="0.64">Jun 28</text>
<use href="#m_ar" x="113.1" y="2616.0"/>
<use href="#m_ar" x="122.4" y="2616.0"/>
<use href="#m_ar" x="131.8" y="2616.0"/>
<use href="#m_ar" x="141.1" y="2616.0"/>
<use href="#m_ar" x="150.4" y="2616.0"/>
<use href="#m_ar" x="159.8" y="2616.0"/>
<use href="#m_ar" x="169.1" y="2616.0"/>
<use href="#m_ar" x="178.4" y="2614.5"/>
<use href="#m_ar" x="187.8" y="2614.5"/>
<use href="#m_ar" x="197.1" y="2614.5"/>
<use href="#m_ar" x="206.4" y="2614.5"/>
<use href="#m_ar" x="215.8" y="2614.5"/>
<use href="#m_ar" x="225.1" y="2614.5"/>
<use href="#m_ar" x="234.5" y="2613.3"/>
<use href="#m_ar" x="243.8" y="2613.3"/>
<use href="#m_ar" x="253.1" y="2613.3"/>
<use href="#m_ar" x="262.5" y="2613.3"/>
<use href="#m_ar" x="271.8" y="2613.3"/>
<use href="#m_ar" x="281.1" y="2613.3"/>
<use href="#m_ar" x="290.5" y="2613.3"/>
<use href="#m_ar" x="299.8" y="2613.3"/>
<use href="#m_ar" x="309.1" y="2613.7"/>
<use href="#m_ar" x="318.5" y="2613.1"/>
<use href="#m_ar" x="327.8" y="2611.2"/>
<use href="#m_ar" x="337.1" y="2608.4"/>
<use href="#m_ar" x="346.5" y="2608.4"/>
<use href="#m_ar" x="355.8" y="2602.6"/>
<use href="#m_ar" x="365.1" y="2598.0"/>
<use href="#m_ar" x="374.5" y="2596.1"/>
<use href="#m_ar" x="383.8" y="2591.2"/>
<use href="#m_ar" x="393.1" y="2588.9"/>
<use href="#m_ar" x="402.5" y="2590.2"/>
<use href="#m_ar" x="411.8" y="2581.4"/>
<use href="#m_ar" x="421.2" y="2582.8"/>
<use href="#m_ar" x="430.5" y="2584.5"/>
<use href="#m_ar" x="439.8" y="2584.5"/>
<use href="#m_ar" x="449.2" y="2584.5"/>
<use href="#m_ar" x="458.5" y="2578.6"/>
<use href="#m_ar" x="467.8" y="2571.5"/>
<use href="#m_ar" x="477.2" y="2569.4"/>
<use href="#m_ar" x="486.5" y="2560.6"/>
<use href="#m_ar" x="495.8" y="2564.4"/>
<use href="#m_ar" x="505.2" y="2556.4"/>
<use href="#m_ar" x="514.5" y="2553.4"/>
<use href="#m_ar" x="523.8" y="2555.8"/>
<use href="#m_ar" x="533.2" y="2554.5"/>
<use href="#m_ar" x="542.5" y="2560.6"/>
<use href="#m_ar" x="551.8" y="2563.1"/>
<use href="#m_ar" x="561.2" y="2556.4"/>
<use href="#m_ar" x="570.5" y="2562.5"/>
<use href="#m_ar" x="579.9" y="2565.6"/>
<use href="#m_ar" x="589.2" y="2557.9"/>
<use href="#m_ar" x="598.5" y="2563.1"/>
<use href="#m_ar" x="607.9" y="2551.4"/>
<use href="#m_ar" x="617.2" y="2547.2"/>
<use href="#m_ar" x="626.5" y="2543.4"/>
<use href="#m_ar" x="635.9" y="2538.5"/>
<use href="#m_ar" x="645.2" y="2537.7"/>
<use href="#m_ar" x="654.5" y="2538.5"/>
<use href="#m_ar" x="663.9" y="2536.4"/>
<use href="#m_ar" x="673.2" y="2547.2"/>
<use href="#m_ar" x="682.5" y="2553.4"/>
<use href="#m_ar" x="691.9" y="2549.3"/>
<use href="#m_ar" x="701.2" y="2546.9"/>
<use href="#m_ar" x="710.5" y="2534.3"/>
<use href="#m_ar" x="719.9" y="2542.3"/>
<use href="#m_ar" x="729.2" y="2540.4"/>
<use href="#m_ar" x="738.5" y="2533.3"/>
<use href="#m_ar" x="747.9" y="2528.1"/>
<use href="#m_ar" x="757.2" y="2534.3"/>
<use href="#m_ar" x="766.6" y="2540.4"/>
<use href="#m_ar" x="775.9" y="2546.9"/>
<use href="#m_ar" x="785.2" y="2546.1"/>
<use href="#m_ar" x="794.6" y="2543.6"/>
<use href="#m_ar" x="803.9" y="2524.7"/>
<use href="#m_ar" x="813.2" y="2533.9"/>
<use href="#m_ar" x="822.6" y="2534.3"/>
<use href="#m_ar" x="831.9" y="2528.1"/>
<use href="#m_ar" x="841.2" y="2528.5"/>
<use href="#m_ar" x="850.6" y="2520.3"/>
<use href="#m_ar" x="859.9" y="2520.3"/>
<use href="#m_ar" x="869.2" y="2534.3"/>
<use href="#m_ar" x="878.6" y="2516.3"/>
<use href="#m_ar" x="887.9" y="2510.4"/>
<use href="#m_ar" x="897.2" y="2514.2"/>
<use href="#m_ar" x="906.6" y="2506.0"/>
<use href="#m_ar" x="915.9" y="2497.8"/>
<use href="#m_ar" x="925.2" y="2490.9"/>
<use href="#m_ar" x="934.6" y="2496.8"/>
<use href="#m_ar" x="943.9" y="2503.1"/>
<use href="#m_ar" x="953.3" y="2509.6"/>
<use href="#m_ar" x="962.6" y="2503.1"/>
<use href="#m_ar" x="971.9" y="2501.2"/>
<use href="#m_ar" x="981.3" y="2506.0"/>
<use href="#m_ar" x="990.6" y="2509.6"/>
<use href="#m_ar" x="999.9" y="2487.5"/>
<use href="#m_ar" x="1009.3" y="2471.4"/>
<use href="#m_ar" x="1018.6" y="2460.9"/>
<use href="#m_ar" x="1027.9" y="2454.4"/>
<use href="#m_ar" x="1037.3" y="2439.3"/>
<rect x="179.0" y="2255.9" width="248.0" height="129.0" fill="#fff"/>
<rect x="179.0" y="2255.9" width="248.0" height="129.0" fill="#000"/>
<text x="202.3" y="2289.7" font-size="27" font-weight="bold" text-anchor="start" fill="#fff" textLength="200.4" lengthAdjust="spacingAndGlyphs" >Deaths to Date</text>
<rect x="203.2" y="2294.7" width="199.5" height="2" fill="#fff"/>
<text x="241.0" y="2329.5" font-size="27" font-weight="bold" text-anchor="start" fill="#fff" textLength="125.0" lengthAdjust="spacingAndGlyphs" >693 Total</text>
<text x="206.0" y="2368.5" font-size="27" font-weight="bold" text-anchor="start" fill="#fff" textLength="195.1" lengthAdjust="spacingAndGlyphs" >3.3 per Million</text>
<rect x="1319.5" y="2118.5" width="1296" height="594.8" fill="#fff" stroke="#bfbfbf" stroke-width="1"/>
<text x="1878.2" y="2179.2" font-size="49" font-weight="bold" text-anchor="start" fill="#000" textLength="174.2" lengthAdjust="spacingAndGlyphs" stroke="#000" stroke-width="0.78">Mexico</text>
<line x1="1407.6" x2="2560.7" y1="2539.6" y2="2539.6" stroke="#e3e3e3" stroke-width="1"/>
<line x1="1407.6" x2="2560.7" y1="2463.0" y2="2463.0" stroke="#e3e3e3" stroke-width="1"/>
<line x1="1407.6" x2="2560.7" y1="2386.4" y2="2386.4" stroke="#e3e3e3" stroke-width="1"/>
<line x1="1407.6" x2="2560.7" y1="2309.8" y2="2309.8" stroke="#e3e3e3" stroke-width="1"/>
<line x1="1407.6" x2="2560.7" y1="2233.2" y2="2233.2" stroke="#e3e3e3" stroke-width="1"/>
<line x1="1408.8" x2="2560.7" y1="2616.2" y2="2616.2" stroke="#000" stroke-width="1.1"/>
<path d="M1475.4 2616.2v-8M1542.1 2616.2v-8M1608.7 2616.2v-8M1675.4 2616.2v-8M1742.0 2616.2v-8M1808.6 2616.2v-8M1875.3 2616.2v-8M1941.9 2616.2v-8M2008.6 2616.2v-8M2075.2 2616.2v-8M2141.8 2616.2v-8M2208.5 2616.2v-8M2275.1 2616.2v-8M2341.8 2616.2v-8M2408.4 2616.2v-8M2475.0 2616.2v-8M2541.7 2616.2v-8" stroke="#000" stroke-width="1.1" fill="none"/>
<text x="1382.1" y="2624.1" font-size="25.5" font-weight="bold" text-anchor="end" fill="#000" textLength="17.6" lengthAdjust="spacingAndGlyphs" stroke="#000" stroke-width="0.51">0</text>
<text x="1382.1" y="2547.5" font-size="25.5" font-weight="bold" text-anchor="end" fill="#000" textLength="15.0" lengthAdjust="spacingAndGlyphs" stroke="#000" stroke-width="0.51">1</text>
<text x="1382.1" y="2470.9" font-size="25.5" font-weight="bold" text-anchor="end" fill="#000" textLength="15.0" lengthAdjust="spacingAndGlyphs" stroke="#000" stroke-width="0.51">2</text>
<text x="1382.1" y="2394.3" font-size="25.5" font-weight="bold" text-anchor="end" fill="#000" textLength="15.0" lengthAdjust="spacingAndGlyphs" stroke="#000" stroke-width="0.51">3</text>
<text x="1382.1" y="2317.7" font-size="25.5" font-weight="bold" text-anchor="end" fill="#000" textLength="15.0" lengthAdjust="spacingAndGlyphs" stroke="#000" stroke-width="0.51">4</text>
<text x="1382.1" y="2241.1" font-size="25.5" font-weight="bold" text-anchor="end" fill="#000" textLength="15.0" lengthAdjust="spacingAndGlyphs" stroke="#000" stroke-width="0.51">5</text>
<text x="0.0" y="0.0" font-size="25.5" font-weight="bold" text-anchor="end" fill="#000" transform="translate(1411.3,2648.7) rotate(-33) scale(1.0,1)" word-spacing="-3.6" stroke="#000" stroke-width="0.64">Mar 1</text>
<text x="0.0" y="0.0" font-size="25.5" font-weight="bold" text-anchor="end" fill="#000" transform="translate(1477.9,2648.7) rotate(-33) scale(1.0,1)" word-spacing="-3.6" stroke="#000" stroke-width="0.64">Mar 8</text>
<text x="0.0" y="0.0" font-size="25.5" font-weight="bold" text-anchor="end" fill="#000" transform="translate(1544.6,2648.7) rotate(-33) scale(1.0,1)" word-spacing="-3.6" stroke="#000" stroke-width="0.64">Mar 15</text>
<text x="0.0" y="0.0" font-size="25.5" font-weight="bold" text-anchor="end" fill="#000" transform="translate(1611.2,2648.7) rotate(-33) scale(1.0,1)" word-spacing="-3.6" stroke="#000" stroke-width="0.64">Mar 22</text>
<text x="0.0" y="0.0" font-size="25.5" font-weight="bold" text-anchor="end" fill="#000" transform="translate(1677.9,2648.7) rotate(-33) scale(1.0,1)" word-spacing="-3.6" stroke="#000" stroke-width="0.64">Mar 29</text>
<text x="0.0" y="0.0" font-size="25.5" font-weight="bold" text-anchor="end" fill="#000" transform="translate(1744.5,2648.7) rotate(-33) scale(1.0,1)" word-spacing="-3.6" stroke="#000" stroke-width="0.64">Apr 5</text>
<text x="0.0" y="0.0" font-size="25.5" font-weight="bold" text-anchor="end" fill="#000" transform="translate(1811.1,2648.7) rotate(-33) scale(1.0,1)" word-spacing="-3.6" stroke="#000" stroke-width="0.64">Apr 12</text>
<text x="0.0" y="0.0" font-size="25.5" font-weight="bold" text-anchor="end" fill="#000" transform="translate(1877.8,2648.7) rotate(-33) scale(1.0,1)" word-spacing="-3.6" stroke="#000" stroke-width="0.64">Apr 19</text>
<text x="0.0" y="0.0" font-size="25.5" font-weight="bold" text-anchor="end" fill="#000" transform="translate(1944.4,2648.7) rotate(-33) scale(1.0,1)" word-spacing="-3.6" stroke="#000" stroke-width="0.64">Apr 26</text>
<text x="0.0" y="0.0" font-size="25.5" font-weight="bold" text-anchor="end" fill="#000" transform="translate(2011.1,2648.7) rotate(-33) scale(1.0,1)" word-spacing="-3.6" stroke="#000" stroke-width="0.64">May 3</text>
<text x="0.0" y="0.0" font-size="25.5" font-weight="bold" text-anchor="end" fill="#000" transform="translate(2077.7,2648.7) rotate(-33) scale(1.0,1)" word-spacing="-3.6" stroke="#000" stroke-width="0.64">May 10</text>
<text x="0.0" y="0.0" font-size="25.5" font-weight="bold" text-anchor="end" fill="#000" transform="translate(2144.3,2648.7) rotate(-33) scale(1.0,1)" word-spacing="-3.6" stroke="#000" stroke-width="0.64">May 17</text>
<text x="0.0" y="0.0" font-size="25.5" font-weight="bold" text-anchor="end" fill="#000" transform="translate(2211.0,2648.7) rotate(-33) scale(1.0,1)" word-spacing="-3.6" stroke="#000" stroke-width="0.64">May 24</text>
<text x="0.0" y="0.0" font-size="25.5" font-weight="bold" text-anchor="end" fill="#000" transform="translate(2277.6,2648.7) rotate(-33) scale(1.0,1)" word-spacing="-3.6" stroke="#000" stroke-width="0.64">May 31</text>
<text x="0.0" y="0.0" font-size="25.5" font-weight="bold" text-anchor="end" fill="#000" transform="translate(2344.3,2648.7) rotate(-33) scale(1.0,1)" word-spacing="-3.6" stroke="#000" stroke-width="0.64">Jun 7</text>
<text x="0.0" y="0.0" font-size="25.5" font-weight="bold" text-anchor="end" fill="#000" transform="translate(2410.9,2648.7) rotate(-33) scale(1.0,1)" word-spacing="-3.6" stroke="#000" stroke-width="0.64">Jun 14</text>
<text x="0.0" y="0.0" font-size="25.5" font-weight="bold" text-anchor="end" fill="#000" transform="translate(2477.5,2648.7) rotate(-33) scale(1.0,1)" word-spacing="-3.6" stroke="#000" stroke-width="0.64">Jun 21</text>
<text x="0.0" y="0.0" font-size="25.5" font-weight="bold" text-anchor="end" fill="#000" transform="translate(2544.2,2648.7) rotate(-33) scale(1.0,1)" word-spacing="-3.6" stroke="#000" stroke-width="0.64">Jun 28</text>
<use href="#m_mx" x="1408.8" y="2616.2"/>
<use href="#m_mx" x="1418.3" y="2616.2"/>
<use href="#m_mx" x="1427.8" y="2616.2"/>
<use href="#m_mx" x="1437.4" y="2616.2"/>
<use href="#m_mx" x="1446.9" y="2616.2"/>
<use href="#m_mx" x="1456.4" y="2616.2"/>
<use href="#m_mx" x="1465.9" y="2616.2"/>
<use href="#m_mx" x="1475.4" y="2616.2"/>
<use href="#m_mx" x="1485.0" y="2616.2"/>
<use href="#m_mx" x="1494.5" y="2616.2"/>
<use href="#m_mx" x="1504.0" y="2616.2"/>
<use href="#m_mx" x="1513.5" y="2616.2"/>
<use href="#m_mx" x="1523.0" y="2616.2"/>
<use href="#m_mx" x="1532.6" y="2616.2"/>
<use href="#m_mx" x="1542.1" y="2616.2"/>
<use href="#m_mx" x="1551.6" y="2616.2"/>
<use href="#m_mx" x="1561.1" y="2616.2"/>
<use href="#m_mx" x="1570.6" y="2616.2"/>
<use href="#m_mx" x="1580.2" y="2616.0"/>
<use href="#m_mx" x="1589.7" y="2615.7"/>
<use href="#m_mx" x="1599.2" y="2615.4"/>
<use href="#m_mx" x="1608.7" y="2614.9"/>
<use href="#m_mx" x="1618.2" y="2614.7"/>
<use href="#m_mx" x="1627.8" y="2614.5"/>
<use href="#m_mx" x="1637.3" y="2614.3"/>
<use href="#m_mx" x="1646.8" y="2614.1"/>
<use href="#m_mx" x="1656.3" y="2613.9"/>
<use href="#m_mx" x="1665.8" y="2613.5"/>
<use href="#m_mx" x="1675.4" y="2613.1"/>
<use href="#m_mx" x="1684.9" y="2612.8"/>
<use href="#m_mx" x="1694.4" y="2612.4"/>
<use href="#m_mx" x="1703.9" y="2611.8"/>
<use href="#m_mx" x="1713.4" y="2611.1"/>
<use href="#m_mx" x="1723.0" y="2610.5"/>
<use href="#m_mx" x="1732.5" y="2609.7"/>
<use href="#m_mx" x="1742.0" y="2608.5"/>
<use href="#m_mx" x="1751.5" y="2607.0"/>
<use href="#m_mx" x="1761.0" y="2605.0"/>
<use href="#m_mx" x="1770.6" y="2603.9"/>
<use href="#m_mx" x="1780.1" y="2603.2"/>
<use href="#m_mx" x="1789.6" y="2600.6"/>
<use href="#m_mx" x="1799.1" y="2598.7"/>
<use href="#m_mx" x="1808.6" y="2598.7"/>
<use href="#m_mx" x="1818.2" y="2598.0"/>
<use href="#m_mx" x="1827.7" y="2592.8"/>
<use href="#m_mx" x="1837.2" y="2591.5"/>
<use href="#m_mx" x="1846.7" y="2590.9"/>
<use href="#m_mx" x="1856.2" y="2588.9"/>
<use href="#m_mx" x="1865.8" y="2583.6"/>
<use href="#m_mx" x="1875.3" y="2582.9"/>
<use href="#m_mx" x="1884.8" y="2582.9"/>
<use href="#m_mx" x="1894.3" y="2576.6"/>
<use href="#m_mx" x="1903.8" y="2570.6"/>
<use href="#m_mx" x="1913.4" y="2565.4"/>
<use href="#m_mx" x="1922.9" y="2557.6"/>
<use href="#m_mx" x="1932.4" y="2559.4"/>
<use href="#m_mx" x="1941.9" y="2558.4"/>
<use href="#m_mx" x="1951.4" y="2553.7"/>
<use href="#m_mx" x="1961.0" y="2554.5"/>
<use href="#m_mx" x="1970.5" y="2551.1"/>
<use href="#m_mx" x="1980.0" y="2548.5"/>
<use href="#m_mx" x="1989.5" y="2551.6"/>
<use href="#m_mx" x="1999.0" y="2551.1"/>
<use href="#m_mx" x="2008.6" y="2547.3"/>
<use href="#m_mx" x="2018.1" y="2544.6"/>
<use href="#m_mx" x="2027.6" y="2535.9"/>
<use href="#m_mx" x="2037.1" y="2532.9"/>
<use href="#m_mx" x="2046.6" y="2522.0"/>
<use href="#m_mx" x="2056.2" y="2514.6"/>
<use href="#m_mx" x="2065.7" y="2505.4"/>
<use href="#m_mx" x="2075.2" y="2503.6"/>
<use href="#m_mx" x="2084.7" y="2504.7"/>
<use href="#m_mx" x="2094.2" y="2495.2"/>
<use href="#m_mx" x="2103.8" y="2486.7"/>
<use href="#m_mx" x="2113.3" y="2486.7"/>
<use href="#m_mx" x="2122.8" y="2478.6"/>
<use href="#m_mx" x="2132.3" y="2471.6"/>
<use href="#m_mx" x="2141.8" y="2469.9"/>
<use href="#m_mx" x="2151.4" y="2465.8"/>
<use href="#m_mx" x="2160.9" y="2467.6"/>
<use href="#m_mx" x="2170.4" y="2456.5"/>
<use href="#m_mx" x="2179.9" y="2442.3"/>
<use href="#m_mx" x="2189.4" y="2426.5"/>
<use href="#m_mx" x="2199.0" y="2433.9"/>
<use href="#m_mx" x="2208.5" y="2426.8"/>
<use href="#m_mx" x="2218.0" y="2419.5"/>
<use href="#m_mx" x="2227.5" y="2405.7"/>
<use href="#m_mx" x="2237.0" y="2401.3"/>
<use href="#m_mx" x="2246.6" y="2399.4"/>
<use href="#m_mx" x="2256.1" y="2408.6"/>
<use href="#m_mx" x="2265.6" y="2393.4"/>
<use href="#m_mx" x="2275.1" y="2399.4"/>
<use href="#m_mx" x="2284.6" y="2399.4"/>
<use href="#m_mx" x="2294.2" y="2402.5"/>
<use href="#m_mx" x="2303.7" y="2348.6"/>
<use href="#m_mx" x="2313.2" y="2317.8"/>
<use href="#m_mx" x="2322.7" y="2295.2"/>
<use href="#m_mx" x="2332.2" y="2297.5"/>
<use href="#m_mx" x="2341.8" y="2294.5"/>
<use href="#m_mx" x="2351.3" y="2284.5"/>
<rect x="1529.9" y="2285.0" width="249.9" height="126.7" fill="#fff"/>
<rect x="1529.9" y="2285.0" width="249.9" height="126.7" fill="#000"/>
<text x="1554.2" y="2319.1" font-size="27" font-weight="bold" text-anchor="start" fill="#fff" textLength="200.4" lengthAdjust="spacingAndGlyphs" >Deaths to Date</text>
<rect x="1555.1" y="2324.1" width="199.5" height="2" fill="#fff"/>
<text x="1571.5" y="2358.9" font-size="27" font-weight="bold" text-anchor="start" fill="#fff" textLength="166.9" lengthAdjust="spacingAndGlyphs" >14,053 Total</text>
<text x="1553.0" y="2398.5" font-size="27" font-weight="bold" text-anchor="start" fill="#fff" textLength="203.7" lengthAdjust="spacingAndGlyphs" >110 per Million</text>
<rect x="1.5" y="2735.5" width="2614.5" height="1200.5" fill="#fff" stroke="#c4c4c4" stroke-width="2"/>
<text x="973.8" y="2855.5" font-size="96" font-weight="bold" text-anchor="start" fill="#000" textLength="657.5" lengthAdjust="spacingAndGlyphs" stroke="#000" stroke-width="1.54">United States</text>
<line x1="190.0" x2="2526.5" y1="3619.4" y2="3619.4" stroke="#e4e0e6" stroke-width="2"/>
<line x1="190.0" x2="2526.5" y1="3524.8" y2="3524.8" stroke="#e4e0e6" stroke-width="2"/>
<line x1="190.0" x2="2526.5" y1="3430.2" y2="3430.2" stroke="#e4e0e6" stroke-width="2"/>
<line x1="190.0" x2="2526.5" y1="3335.6" y2="3335.6" stroke="#e4e0e6" stroke-width="2"/>
<line x1="190.0" x2="2526.5" y1="3241.0" y2="3241.0" stroke="#e4e0e6" stroke-width="2"/>
<line x1="190.0" x2="2526.5" y1="3146.4" y2="3146.4" stroke="#e4e0e6" stroke-width="2"/>
<line x1="190.0" x2="2526.5" y1="3051.8" y2="3051.8" stroke="#e4e0e6" stroke-width="2"/>
<line x1="190.0" x2="2526.5" y1="2957.2" y2="2957.2" stroke="#e4e0e6" stroke-width="2"/>
<line x1="191.2" x2="2526.5" y1="3714.0" y2="3714.0" stroke="#000" stroke-width="2.4"/>
<path d="M326.3 3714.0v-18.5M461.4 3714.0v-18.5M596.5 3714.0v-18.5M731.6 3714.0v-18.5M866.7 3714.0v-18.5M1001.8 3714.0v-18.5M1136.9 3714.0v-18.5M1272.0 3714.0v-18.5M1407.1 3714.0v-18.5M1542.2 3714.0v-18.5M1677.3 3714.0v-18.5M1812.4 3714.0v-18.5M1947.5 3714.0v-18.5M2082.6 3714.0v-18.5M2217.7 3714.0v-18.5M2352.8 3714.0v-18.5M2487.9 3714.0v-18.5" stroke="#000" stroke-width="2.4" fill="none"/>
<text x="138.5" y="3730.2" font-size="55.5" font-weight="bold" text-anchor="end" fill="#000" textLength="36.7" lengthAdjust="spacingAndGlyphs" stroke="#000" stroke-width="0.33">0</text>
<text x="138.5" y="3635.6" font-size="55.5" font-weight="bold" text-anchor="end" fill="#000" textLength="34.9" lengthAdjust="spacingAndGlyphs" stroke="#000" stroke-width="0.33">1</text>
<text x="138.5" y="3541.0" font-size="55.5" font-weight="bold" text-anchor="end" fill="#000" textLength="34.9" lengthAdjust="spacingAndGlyphs" stroke="#000" stroke-width="0.33">2</text>
<text x="138.5" y="3446.4" font-size="55.5" font-weight="bold" text-anchor="end" fill="#000" textLength="34.9" lengthAdjust="spacingAndGlyphs" stroke="#000" stroke-width="0.33">3</text>
<text x="138.5" y="3351.8" font-size="55.5" font-weight="bold" text-anchor="end" fill="#000" textLength="34.9" lengthAdjust="spacingAndGlyphs" stroke="#000" stroke-width="0.33">4</text>
<text x="138.5" y="3257.2" font-size="55.5" font-weight="bold" text-anchor="end" fill="#000" textLength="34.9" lengthAdjust="spacingAndGlyphs" stroke="#000" stroke-width="0.33">5</text>
<text x="138.5" y="3162.6" font-size="55.5" font-weight="bold" text-anchor="end" fill="#000" textLength="34.9" lengthAdjust="spacingAndGlyphs" stroke="#000" stroke-width="0.33">6</text>
<text x="138.5" y="3068.0" font-size="55.5" font-weight="bold" text-anchor="end" fill="#000" textLength="34.9" lengthAdjust="spacingAndGlyphs" stroke="#000" stroke-width="0.33">7</text>
<text x="138.5" y="2973.4" font-size="55.5" font-weight="bold" text-anchor="end" fill="#000" textLength="34.9" lengthAdjust="spacingAndGlyphs" stroke="#000" stroke-width="0.33">8</text>
<text x="0.0" y="0.0" font-size="55" font-weight="bold" text-anchor="end" fill="#000" transform="translate(202.9,3789.2) rotate(-32.6) scale(1.17,1)" word-spacing="-4.4" stroke="#000" stroke-width="0.00">Mar 1</text>
<text x="0.0" y="0.0" font-size="55" font-weight="bold" text-anchor="end" fill="#000" transform="translate(338.0,3789.2) rotate(-32.6) scale(1.17,1)" word-spacing="-4.4" stroke="#000" stroke-width="0.00">Mar 8</text>
<text x="0.0" y="0.0" font-size="55" font-weight="bold" text-anchor="end" fill="#000" transform="translate(473.1,3789.2) rotate(-32.6) scale(1.17,1)" word-spacing="-4.4" stroke="#000" stroke-width="0.00">Mar 15</text>
<text x="0.0" y="0.0" font-size="55" font-weight="bold" text-anchor="end" fill="#000" transform="translate(608.2,3789.2) rotate(-32.6) scale(1.17,1)" word-spacing="-4.4" stroke="#000" stroke-width="0.00">Mar 22</text>
<text x="0.0" y="0.0" font-size="55" font-weight="bold" text-anchor="end" fill="#000" transform="translate(743.3,3789.2) rotate(-32.6) scale(1.17,1)" word-spacing="-4.4" stroke="#000" stroke-width="0.00">Mar 29</text>
<text x="0.0" y="0.0" font-size="55" font-weight="bold" text-anchor="end" fill="#000" transform="translate(878.4,3789.2) rotate(-32.6) scale(1.17,1)" word-spacing="-4.4" stroke="#000" stroke-width="0.00">Apr 5</text>
<text x="0.0" y="0.0" font-size="55" font-weight="bold" text-anchor="end" fill="#000" transform="translate(1013.5,3789.2) rotate(-32.6) scale(1.17,1)" word-spacing="-4.4" stroke="#000" stroke-width="0.00">Apr 12</text>
<text x="0.0" y="0.0" font-size="55" font-weight="bold" text-anchor="end" fill="#000" transform="translate(1148.6,3789.2) rotate(-32.6) scale(1.17,1)" word-spacing="-4.4" stroke="#000" stroke-width="0.00">Apr 19</text>
<text x="0.0" y="0.0" font-size="55" font-weight="bold" text-anchor="end" fill="#000" transform="translate(1283.7,3789.2) rotate(-32.6) scale(1.17,1)" word-spacing="-4.4" stroke="#000" stroke-width="0.00">Apr 26</text>
<text x="0.0" y="0.0" font-size="55" font-weight="bold" text-anchor="end" fill="#000" transform="translate(1418.8,3789.2) rotate(-32.6) scale(1.17,1)" word-spacing="-4.4" stroke="#000" stroke-width="0.00">May 3</text>
<text x="0.0" y="0.0" font-size="55" font-weight="bold" text-anchor="end" fill="#000" transform="translate(1553.9,3789.2) rotate(-32.6) scale(1.17,1)" word-spacing="-4.4" stroke="#000" stroke-width="0.00">May 10</text>
<text x="0.0" y="0.0" font-size="55" font-weight="bold" text-anchor="end" fill="#000" transform="translate(1689.0,3789.2) rotate(-32.6) scale(1.17,1)" word-spacing="-4.4" stroke="#000" stroke-width="0.00">May 17</text>
<text x="0.0" y="0.0" font-size="55" font-weight="bold" text-anchor="end" fill="#000" transform="translate(1824.1,3789.2) rotate(-32.6) scale(1.17,1)" word-spacing="-4.4" stroke="#000" stroke-width="0.00">May 24</text>
<text x="0.0" y="0.0" font-size="55" font-weight="bold" text-anchor="end" fill="#000" transform="translate(1959.2,3789.2) rotate(-32.6) scale(1.17,1)" word-spacing="-4.4" stroke="#000" stroke-width="0.00">May 31</text>
<text x="0.0" y="0.0" font-size="55" font-weight="bold" text-anchor="end" fill="#000" transform="translate(2094.3,3789.2) rotate(-32.6) scale(1.17,1)" word-spacing="-4.4" stroke="#000" stroke-width="0.00">Jun 7</text>
<text x="0.0" y="0.0" font-size="55" font-weight="bold" text-anchor="end" fill="#000" transform="translate(2229.4,3789.2) rotate(-32.6) scale(1.17,1)" word-spacing="-4.4" stroke="#000" stroke-width="0.00">Jun 14</text>
<text x="0.0" y="0.0" font-size="55" font-weight="bold" text-anchor="end" fill="#000" transform="translate(2364.5,3789.2) rotate(-32.6) scale(1.17,1)" word-spacing="-4.4" stroke="#000" stroke-width="0.00">Jun 21</text>
<text x="0.0" y="0.0" font-size="55" font-weight="bold" text-anchor="end" fill="#000" transform="translate(2499.6,3789.2) rotate(-32.6) scale(1.17,1)" word-spacing="-4.4" stroke="#000" stroke-width="0.00">Jun 28</text>
<use href="#m_us" x="191.2" y="3714.0"/>
<use href="#m_us" x="210.5" y="3714.0"/>
<use href="#m_us" x="229.8" y="3714.0"/>
<use href="#m_us" x="249.1" y="3714.0"/>
<use href="#m_us" x="268.4" y="3714.0"/>
<use href="#m_us" x="287.7" y="3714.0"/>
<use href="#m_us" x="307.0" y="3714.0"/>
<use href="#m_us" x="326.3" y="3714.0"/>
<use href="#m_us" x="345.6" y="3714.0"/>
<use href="#m_us" x="364.9" y="3713.8"/>
<use href="#m_us" x="384.2" y="3713.6"/>
<use href="#m_us" x="403.5" y="3713.4"/>
<use href="#m_us" x="422.8" y="3713.1"/>
<use href="#m_us" x="442.1" y="3712.6"/>
<use href="#m_us" x="461.4" y="3712.1"/>
<use href="#m_us" x="480.7" y="3711.2"/>
<use href="#m_us" x="500.0" y="3708.8"/>
<use href="#m_us" x="519.3" y="3706.4"/>
<use href="#m_us" x="538.6" y="3702.6"/>
<use href="#m_us" x="557.9" y="3698.4"/>
<use href="#m_us" x="577.2" y="3694.1"/>
<use href="#m_us" x="596.5" y="3688.9"/>
<use href="#m_us" x="615.8" y="3681.8"/>
<use href="#m_us" x="635.1" y="3672.4"/>
<use href="#m_us" x="654.4" y="3662.9"/>
<use href="#m_us" x="673.7" y="3649.7"/>
<use href="#m_us" x="693.0" y="3634.5"/>
<use href="#m_us" x="712.3" y="3619.4"/>
<use href="#m_us" x="731.6" y="3596.7"/>
<use href="#m_us" x="750.9" y="3575.9"/>
<use href="#m_us" x="770.2" y="3534.3"/>
<use href="#m_us" x="789.5" y="3500.2"/>
<use href="#m_us" x="808.8" y="3460.5"/>
<use href="#m_us" x="828.1" y="3427.4"/>
<use href="#m_us" x="847.4" y="3382.0"/>
<use href="#m_us" x="866.7" y="3347.0"/>
<use href="#m_us" x="886.0" y="3316.7"/>
<use href="#m_us" x="905.3" y="3271.3"/>
<use href="#m_us" x="924.6" y="3232.5"/>
<use href="#m_us" x="943.9" y="3206.0"/>
<use href="#m_us" x="963.2" y="3176.7"/>
<use href="#m_us" x="982.5" y="3159.6"/>
<use href="#m_us" x="1001.8" y="3153.0"/>
<use href="#m_us" x="1021.1" y="3139.8"/>
<use href="#m_us" x="1040.4" y="3136.0"/>
<use href="#m_us" x="1059.7" y="3119.0"/>
<use href="#m_us" x="1079.0" y="3115.2"/>
<use href="#m_us" x="1098.3" y="3095.3"/>
<use href="#m_us" x="1117.6" y="3080.2"/>
<use href="#m_us" x="1136.9" y="3103.8"/>
<use href="#m_us" x="1156.2" y="3105.7"/>
<use href="#m_us" x="1175.5" y="3104.8"/>
<use href="#m_us" x="1194.8" y="3113.3"/>
<use href="#m_us" x="1214.1" y="3101.9"/>
<use href="#m_us" x="1233.4" y="3138.8"/>
<use href="#m_us" x="1252.7" y="3139.8"/>
<use href="#m_us" x="1272.0" y="3140.7"/>
<use href="#m_us" x="1291.3" y="3156.8"/>
<use href="#m_us" x="1310.6" y="3170.1"/>
<use href="#m_us" x="1329.9" y="3156.8"/>
<use href="#m_us" x="1349.2" y="3171.0"/>
<use href="#m_us" x="1368.5" y="3160.6"/>
<use href="#m_us" x="1387.8" y="3197.5"/>
<use href="#m_us" x="1407.1" y="3188.0"/>
<use href="#m_us" x="1426.4" y="3191.8"/>
<use href="#m_us" x="1445.7" y="3190.9"/>
<use href="#m_us" x="1465.0" y="3202.2"/>
<use href="#m_us" x="1484.3" y="3192.8"/>
<use href="#m_us" x="1503.6" y="3212.6"/>
<use href="#m_us" x="1522.9" y="3203.2"/>
<use href="#m_us" x="1542.2" y="3228.7"/>
<use href="#m_us" x="1561.5" y="3229.6"/>
<use href="#m_us" x="1580.8" y="3249.5"/>
<use href="#m_us" x="1600.1" y="3276.0"/>
<use href="#m_us" x="1619.4" y="3294.9"/>
<use href="#m_us" x="1638.7" y="3288.3"/>
<use href="#m_us" x="1658.0" y="3305.3"/>
<use href="#m_us" x="1677.3" y="3301.5"/>
<use href="#m_us" x="1696.6" y="3316.7"/>
<use href="#m_us" x="1715.9" y="3319.5"/>
<use href="#m_us" x="1735.2" y="3329.9"/>
<use href="#m_us" x="1754.5" y="3352.6"/>
<use href="#m_us" x="1773.8" y="3367.8"/>
<use href="#m_us" x="1793.1" y="3370.6"/>
<use href="#m_us" x="1812.4" y="3378.2"/>
<use href="#m_us" x="1831.7" y="3391.4"/>
<use href="#m_us" x="1851.0" y="3428.3"/>
<use href="#m_us" x="1870.3" y="3428.3"/>
<use href="#m_us" x="1889.6" y="3430.2"/>
<use href="#m_us" x="1908.9" y="3434.0"/>
<use href="#m_us" x="1928.2" y="3440.6"/>
<use href="#m_us" x="1947.5" y="3440.6"/>
<use href="#m_us" x="1966.8" y="3430.2"/>
<use href="#m_us" x="1986.1" y="3414.1"/>
<use href="#m_us" x="2005.4" y="3437.8"/>
<use href="#m_us" x="2024.7" y="3443.4"/>
<use href="#m_us" x="2044.0" y="3455.7"/>
<use href="#m_us" x="2063.3" y="3469.0"/>
<use href="#m_us" x="2082.6" y="3461.4"/>
<use href="#m_us" x="2101.9" y="3474.7"/>
<rect x="260.5" y="3071.4" width="418.7" height="206.3" fill="#fff"/>
<rect x="264.0" y="3074.9" width="411.7" height="199.3" fill="#000"/>
<text x="318.0" y="3130.6" font-size="41" font-weight="bold" text-anchor="start" fill="#fff" textLength="302.3" lengthAdjust="spacingAndGlyphs" >Deaths to Date</text>
<rect x="319.9" y="3139.3" width="300.0" height="2.6" fill="#fff"/>
<text x="331.1" y="3188.9" font-size="41" font-weight="bold" text-anchor="start" fill="#fff" textLength="277.8" lengthAdjust="spacingAndGlyphs" >110,990 Total</text>
<text x="316.6" y="3247.2" font-size="41" font-weight="bold" text-anchor="start" fill="#fff" textLength="308.3" lengthAdjust="spacingAndGlyphs" >337 per Million</text>
<text x="2.3" y="4040.2" font-size="45" font-weight="normal" text-anchor="start" fill="#000" textLength="1162.7" lengthAdjust="spacingAndGlyphs" >Source: Johns Hopkins COVID-19 dataset as of June 8 at:</text>
<text x="170.8" y="4088.9" font-size="45" font-weight="normal" text-anchor="start" fill="#000" textLength="988.0" lengthAdjust="spacingAndGlyphs" >https://github.com/CSSEGISandData/COVID-19/</text>
<text x="2075.0" y="4087.0" font-size="160" font-weight="bold" text-anchor="start" fill="#c9c7c8" textLength="287.0" lengthAdjust="spacingAndGlyphs" stroke="#c9c7c8" stroke-width="8.5" stroke-linejoin="round">Mother</text>
<text x="2387.0" y="4087.0" font-size="160" font-weight="bold" text-anchor="start" fill="#c9c7c8" textLength="239.0" lengthAdjust="spacingAndGlyphs" stroke="#c9c7c8" stroke-width="8.5" stroke-linejoin="round">Jones</text>
</svg></body></html>
